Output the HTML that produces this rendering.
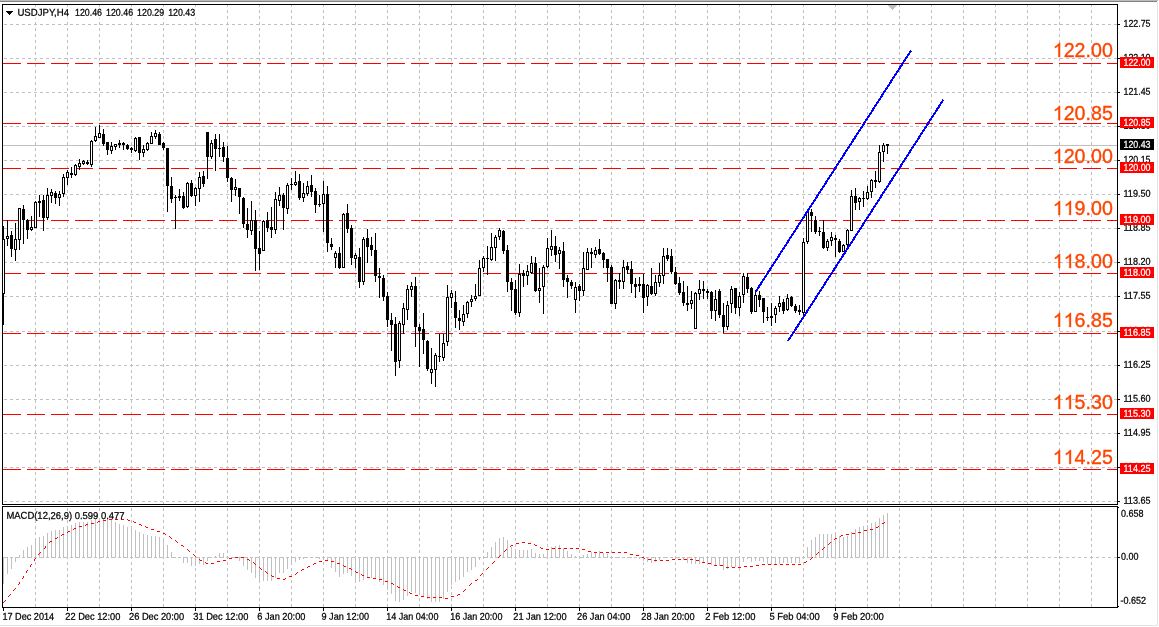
<!DOCTYPE html><html><head><meta charset="utf-8"><style>html,body{margin:0;padding:0;background:#fff;overflow:hidden}svg{display:block}</style></head><body><svg width="1159" height="627" viewBox="0 0 1159 627" shape-rendering="crispEdges">
<rect x="0" y="0" width="1159" height="627" fill="#ffffff"/>
<rect x="0" y="0" width="1158" height="1" fill="#bcbcbc"/>
<rect x="0" y="1" width="1157" height="1" fill="#808181"/>
<rect x="1157" y="2" width="1" height="624" fill="#e3e3e3"/>
<rect x="0" y="625" width="1158" height="1" fill="#e3e3e3"/>
<line x1="35.5" y1="4" x2="35.5" y2="504" stroke="#c0c0c0" stroke-width="1" stroke-dasharray="3 3"/>
<line x1="35.5" y1="508" x2="35.5" y2="607" stroke="#c0c0c0" stroke-width="1" stroke-dasharray="3 3"/>
<line x1="67.5" y1="4" x2="67.5" y2="504" stroke="#c0c0c0" stroke-width="1" stroke-dasharray="3 3"/>
<line x1="67.5" y1="508" x2="67.5" y2="607" stroke="#c0c0c0" stroke-width="1" stroke-dasharray="3 3"/>
<line x1="99.5" y1="4" x2="99.5" y2="504" stroke="#c0c0c0" stroke-width="1" stroke-dasharray="3 3"/>
<line x1="99.5" y1="508" x2="99.5" y2="607" stroke="#c0c0c0" stroke-width="1" stroke-dasharray="3 3"/>
<line x1="131.5" y1="4" x2="131.5" y2="504" stroke="#c0c0c0" stroke-width="1" stroke-dasharray="3 3"/>
<line x1="131.5" y1="508" x2="131.5" y2="607" stroke="#c0c0c0" stroke-width="1" stroke-dasharray="3 3"/>
<line x1="163.5" y1="4" x2="163.5" y2="504" stroke="#c0c0c0" stroke-width="1" stroke-dasharray="3 3"/>
<line x1="163.5" y1="508" x2="163.5" y2="607" stroke="#c0c0c0" stroke-width="1" stroke-dasharray="3 3"/>
<line x1="195.5" y1="4" x2="195.5" y2="504" stroke="#c0c0c0" stroke-width="1" stroke-dasharray="3 3"/>
<line x1="195.5" y1="508" x2="195.5" y2="607" stroke="#c0c0c0" stroke-width="1" stroke-dasharray="3 3"/>
<line x1="227.5" y1="4" x2="227.5" y2="504" stroke="#c0c0c0" stroke-width="1" stroke-dasharray="3 3"/>
<line x1="227.5" y1="508" x2="227.5" y2="607" stroke="#c0c0c0" stroke-width="1" stroke-dasharray="3 3"/>
<line x1="259.5" y1="4" x2="259.5" y2="504" stroke="#c0c0c0" stroke-width="1" stroke-dasharray="3 3"/>
<line x1="259.5" y1="508" x2="259.5" y2="607" stroke="#c0c0c0" stroke-width="1" stroke-dasharray="3 3"/>
<line x1="291.5" y1="4" x2="291.5" y2="504" stroke="#c0c0c0" stroke-width="1" stroke-dasharray="3 3"/>
<line x1="291.5" y1="508" x2="291.5" y2="607" stroke="#c0c0c0" stroke-width="1" stroke-dasharray="3 3"/>
<line x1="323.5" y1="4" x2="323.5" y2="504" stroke="#c0c0c0" stroke-width="1" stroke-dasharray="3 3"/>
<line x1="323.5" y1="508" x2="323.5" y2="607" stroke="#c0c0c0" stroke-width="1" stroke-dasharray="3 3"/>
<line x1="355.5" y1="4" x2="355.5" y2="504" stroke="#c0c0c0" stroke-width="1" stroke-dasharray="3 3"/>
<line x1="355.5" y1="508" x2="355.5" y2="607" stroke="#c0c0c0" stroke-width="1" stroke-dasharray="3 3"/>
<line x1="387.5" y1="4" x2="387.5" y2="504" stroke="#c0c0c0" stroke-width="1" stroke-dasharray="3 3"/>
<line x1="387.5" y1="508" x2="387.5" y2="607" stroke="#c0c0c0" stroke-width="1" stroke-dasharray="3 3"/>
<line x1="419.5" y1="4" x2="419.5" y2="504" stroke="#c0c0c0" stroke-width="1" stroke-dasharray="3 3"/>
<line x1="419.5" y1="508" x2="419.5" y2="607" stroke="#c0c0c0" stroke-width="1" stroke-dasharray="3 3"/>
<line x1="451.5" y1="4" x2="451.5" y2="504" stroke="#c0c0c0" stroke-width="1" stroke-dasharray="3 3"/>
<line x1="451.5" y1="508" x2="451.5" y2="607" stroke="#c0c0c0" stroke-width="1" stroke-dasharray="3 3"/>
<line x1="483.5" y1="4" x2="483.5" y2="504" stroke="#c0c0c0" stroke-width="1" stroke-dasharray="3 3"/>
<line x1="483.5" y1="508" x2="483.5" y2="607" stroke="#c0c0c0" stroke-width="1" stroke-dasharray="3 3"/>
<line x1="515.5" y1="4" x2="515.5" y2="504" stroke="#c0c0c0" stroke-width="1" stroke-dasharray="3 3"/>
<line x1="515.5" y1="508" x2="515.5" y2="607" stroke="#c0c0c0" stroke-width="1" stroke-dasharray="3 3"/>
<line x1="547.5" y1="4" x2="547.5" y2="504" stroke="#c0c0c0" stroke-width="1" stroke-dasharray="3 3"/>
<line x1="547.5" y1="508" x2="547.5" y2="607" stroke="#c0c0c0" stroke-width="1" stroke-dasharray="3 3"/>
<line x1="579.5" y1="4" x2="579.5" y2="504" stroke="#c0c0c0" stroke-width="1" stroke-dasharray="3 3"/>
<line x1="579.5" y1="508" x2="579.5" y2="607" stroke="#c0c0c0" stroke-width="1" stroke-dasharray="3 3"/>
<line x1="611.5" y1="4" x2="611.5" y2="504" stroke="#c0c0c0" stroke-width="1" stroke-dasharray="3 3"/>
<line x1="611.5" y1="508" x2="611.5" y2="607" stroke="#c0c0c0" stroke-width="1" stroke-dasharray="3 3"/>
<line x1="643.5" y1="4" x2="643.5" y2="504" stroke="#c0c0c0" stroke-width="1" stroke-dasharray="3 3"/>
<line x1="643.5" y1="508" x2="643.5" y2="607" stroke="#c0c0c0" stroke-width="1" stroke-dasharray="3 3"/>
<line x1="675.5" y1="4" x2="675.5" y2="504" stroke="#c0c0c0" stroke-width="1" stroke-dasharray="3 3"/>
<line x1="675.5" y1="508" x2="675.5" y2="607" stroke="#c0c0c0" stroke-width="1" stroke-dasharray="3 3"/>
<line x1="707.5" y1="4" x2="707.5" y2="504" stroke="#c0c0c0" stroke-width="1" stroke-dasharray="3 3"/>
<line x1="707.5" y1="508" x2="707.5" y2="607" stroke="#c0c0c0" stroke-width="1" stroke-dasharray="3 3"/>
<line x1="739.5" y1="4" x2="739.5" y2="504" stroke="#c0c0c0" stroke-width="1" stroke-dasharray="3 3"/>
<line x1="739.5" y1="508" x2="739.5" y2="607" stroke="#c0c0c0" stroke-width="1" stroke-dasharray="3 3"/>
<line x1="771.5" y1="4" x2="771.5" y2="504" stroke="#c0c0c0" stroke-width="1" stroke-dasharray="3 3"/>
<line x1="771.5" y1="508" x2="771.5" y2="607" stroke="#c0c0c0" stroke-width="1" stroke-dasharray="3 3"/>
<line x1="803.5" y1="4" x2="803.5" y2="504" stroke="#c0c0c0" stroke-width="1" stroke-dasharray="3 3"/>
<line x1="803.5" y1="508" x2="803.5" y2="607" stroke="#c0c0c0" stroke-width="1" stroke-dasharray="3 3"/>
<line x1="835.5" y1="4" x2="835.5" y2="504" stroke="#c0c0c0" stroke-width="1" stroke-dasharray="3 3"/>
<line x1="835.5" y1="508" x2="835.5" y2="607" stroke="#c0c0c0" stroke-width="1" stroke-dasharray="3 3"/>
<line x1="867.5" y1="4" x2="867.5" y2="504" stroke="#c0c0c0" stroke-width="1" stroke-dasharray="3 3"/>
<line x1="867.5" y1="508" x2="867.5" y2="607" stroke="#c0c0c0" stroke-width="1" stroke-dasharray="3 3"/>
<line x1="899.5" y1="4" x2="899.5" y2="504" stroke="#c0c0c0" stroke-width="1" stroke-dasharray="3 3"/>
<line x1="899.5" y1="508" x2="899.5" y2="607" stroke="#c0c0c0" stroke-width="1" stroke-dasharray="3 3"/>
<line x1="931.5" y1="4" x2="931.5" y2="504" stroke="#c0c0c0" stroke-width="1" stroke-dasharray="3 3"/>
<line x1="931.5" y1="508" x2="931.5" y2="607" stroke="#c0c0c0" stroke-width="1" stroke-dasharray="3 3"/>
<line x1="963.5" y1="4" x2="963.5" y2="504" stroke="#c0c0c0" stroke-width="1" stroke-dasharray="3 3"/>
<line x1="963.5" y1="508" x2="963.5" y2="607" stroke="#c0c0c0" stroke-width="1" stroke-dasharray="3 3"/>
<line x1="995.5" y1="4" x2="995.5" y2="504" stroke="#c0c0c0" stroke-width="1" stroke-dasharray="3 3"/>
<line x1="995.5" y1="508" x2="995.5" y2="607" stroke="#c0c0c0" stroke-width="1" stroke-dasharray="3 3"/>
<line x1="1027.5" y1="4" x2="1027.5" y2="504" stroke="#c0c0c0" stroke-width="1" stroke-dasharray="3 3"/>
<line x1="1027.5" y1="508" x2="1027.5" y2="607" stroke="#c0c0c0" stroke-width="1" stroke-dasharray="3 3"/>
<line x1="1059.5" y1="4" x2="1059.5" y2="504" stroke="#c0c0c0" stroke-width="1" stroke-dasharray="3 3"/>
<line x1="1059.5" y1="508" x2="1059.5" y2="607" stroke="#c0c0c0" stroke-width="1" stroke-dasharray="3 3"/>
<line x1="1091.5" y1="4" x2="1091.5" y2="504" stroke="#c0c0c0" stroke-width="1" stroke-dasharray="3 3"/>
<line x1="1091.5" y1="508" x2="1091.5" y2="607" stroke="#c0c0c0" stroke-width="1" stroke-dasharray="3 3"/>
<line x1="4" y1="24.5" x2="1117" y2="24.5" stroke="#c0c0c0" stroke-width="1" stroke-dasharray="3 3"/>
<line x1="4" y1="58.5" x2="1117" y2="58.5" stroke="#c0c0c0" stroke-width="1" stroke-dasharray="3 3"/>
<line x1="4" y1="92.5" x2="1117" y2="92.5" stroke="#c0c0c0" stroke-width="1" stroke-dasharray="3 3"/>
<line x1="4" y1="126.5" x2="1117" y2="126.5" stroke="#c0c0c0" stroke-width="1" stroke-dasharray="3 3"/>
<line x1="4" y1="160.5" x2="1117" y2="160.5" stroke="#c0c0c0" stroke-width="1" stroke-dasharray="3 3"/>
<line x1="4" y1="194.5" x2="1117" y2="194.5" stroke="#c0c0c0" stroke-width="1" stroke-dasharray="3 3"/>
<line x1="4" y1="228.5" x2="1117" y2="228.5" stroke="#c0c0c0" stroke-width="1" stroke-dasharray="3 3"/>
<line x1="4" y1="262.5" x2="1117" y2="262.5" stroke="#c0c0c0" stroke-width="1" stroke-dasharray="3 3"/>
<line x1="4" y1="296.5" x2="1117" y2="296.5" stroke="#c0c0c0" stroke-width="1" stroke-dasharray="3 3"/>
<line x1="4" y1="331.5" x2="1117" y2="331.5" stroke="#c0c0c0" stroke-width="1" stroke-dasharray="3 3"/>
<line x1="4" y1="365.5" x2="1117" y2="365.5" stroke="#c0c0c0" stroke-width="1" stroke-dasharray="3 3"/>
<line x1="4" y1="399.5" x2="1117" y2="399.5" stroke="#c0c0c0" stroke-width="1" stroke-dasharray="3 3"/>
<line x1="4" y1="433.5" x2="1117" y2="433.5" stroke="#c0c0c0" stroke-width="1" stroke-dasharray="3 3"/>
<line x1="4" y1="467.5" x2="1117" y2="467.5" stroke="#c0c0c0" stroke-width="1" stroke-dasharray="3 3"/>
<line x1="4" y1="501.5" x2="1117" y2="501.5" stroke="#c0c0c0" stroke-width="1" stroke-dasharray="3 3"/>
<line x1="4" y1="557.5" x2="1117" y2="557.5" stroke="#c0c0c0" stroke-width="1" stroke-dasharray="3 3"/>
<rect x="5" y="7" width="192" height="11" fill="#ffffff"/>
<rect x="5" y="511" width="121" height="9" fill="#ffffff"/>
<line x1="3" y1="63.5" x2="1117" y2="63.5" stroke="#ff0000" stroke-width="1" stroke-dasharray="18 6"/>
<line x1="3" y1="123.5" x2="1117" y2="123.5" stroke="#ff0000" stroke-width="1" stroke-dasharray="18 6"/>
<line x1="3" y1="168.5" x2="1117" y2="168.5" stroke="#ff0000" stroke-width="1" stroke-dasharray="18 6"/>
<line x1="3" y1="220.5" x2="1117" y2="220.5" stroke="#ff0000" stroke-width="1" stroke-dasharray="18 6"/>
<line x1="3" y1="273.5" x2="1117" y2="273.5" stroke="#ff0000" stroke-width="1" stroke-dasharray="18 6"/>
<line x1="3" y1="333.5" x2="1117" y2="333.5" stroke="#ff0000" stroke-width="1" stroke-dasharray="18 6"/>
<line x1="3" y1="414.5" x2="1117" y2="414.5" stroke="#ff0000" stroke-width="1" stroke-dasharray="18 6"/>
<line x1="3" y1="469.5" x2="1117" y2="469.5" stroke="#ff0000" stroke-width="1" stroke-dasharray="18 6"/>
<rect x="3" y="145" width="1114" height="1" fill="#c0c0c0"/>
<rect x="3" y="557" width="1" height="27" fill="#c0c0c0"/>
<rect x="7" y="557" width="1" height="17" fill="#c0c0c0"/>
<rect x="11" y="557" width="1" height="12" fill="#c0c0c0"/>
<rect x="15" y="557" width="1" height="5" fill="#c0c0c0"/>
<rect x="19" y="555" width="1" height="3" fill="#c0c0c0"/>
<rect x="23" y="550" width="1" height="8" fill="#c0c0c0"/>
<rect x="27" y="547" width="1" height="11" fill="#c0c0c0"/>
<rect x="31" y="545" width="1" height="13" fill="#c0c0c0"/>
<rect x="35" y="538" width="1" height="20" fill="#c0c0c0"/>
<rect x="39" y="537" width="1" height="21" fill="#c0c0c0"/>
<rect x="43" y="536" width="1" height="22" fill="#c0c0c0"/>
<rect x="47" y="533" width="1" height="25" fill="#c0c0c0"/>
<rect x="51" y="531" width="1" height="27" fill="#c0c0c0"/>
<rect x="55" y="530" width="1" height="28" fill="#c0c0c0"/>
<rect x="59" y="530" width="1" height="28" fill="#c0c0c0"/>
<rect x="63" y="527" width="1" height="31" fill="#c0c0c0"/>
<rect x="67" y="526" width="1" height="32" fill="#c0c0c0"/>
<rect x="71" y="525" width="1" height="33" fill="#c0c0c0"/>
<rect x="75" y="523" width="1" height="35" fill="#c0c0c0"/>
<rect x="79" y="522" width="1" height="36" fill="#c0c0c0"/>
<rect x="83" y="522" width="1" height="36" fill="#c0c0c0"/>
<rect x="87" y="522" width="1" height="36" fill="#c0c0c0"/>
<rect x="91" y="520" width="1" height="38" fill="#c0c0c0"/>
<rect x="95" y="519" width="1" height="39" fill="#c0c0c0"/>
<rect x="99" y="518" width="1" height="40" fill="#c0c0c0"/>
<rect x="103" y="518" width="1" height="40" fill="#c0c0c0"/>
<rect x="107" y="519" width="1" height="39" fill="#c0c0c0"/>
<rect x="111" y="520" width="1" height="38" fill="#c0c0c0"/>
<rect x="115" y="522" width="1" height="36" fill="#c0c0c0"/>
<rect x="119" y="524" width="1" height="34" fill="#c0c0c0"/>
<rect x="123" y="525" width="1" height="33" fill="#c0c0c0"/>
<rect x="127" y="527" width="1" height="31" fill="#c0c0c0"/>
<rect x="131" y="528" width="1" height="30" fill="#c0c0c0"/>
<rect x="135" y="530" width="1" height="28" fill="#c0c0c0"/>
<rect x="139" y="532" width="1" height="26" fill="#c0c0c0"/>
<rect x="143" y="534" width="1" height="24" fill="#c0c0c0"/>
<rect x="147" y="535" width="1" height="23" fill="#c0c0c0"/>
<rect x="151" y="536" width="1" height="22" fill="#c0c0c0"/>
<rect x="155" y="536" width="1" height="22" fill="#c0c0c0"/>
<rect x="159" y="537" width="1" height="21" fill="#c0c0c0"/>
<rect x="163" y="538" width="1" height="20" fill="#c0c0c0"/>
<rect x="167" y="545" width="1" height="13" fill="#c0c0c0"/>
<rect x="171" y="552" width="1" height="6" fill="#c0c0c0"/>
<rect x="175" y="557" width="1" height="1" fill="#c0c0c0"/>
<rect x="179" y="557" width="1" height="1" fill="#c0c0c0"/>
<rect x="183" y="557" width="1" height="6" fill="#c0c0c0"/>
<rect x="187" y="557" width="1" height="6" fill="#c0c0c0"/>
<rect x="191" y="557" width="1" height="9" fill="#c0c0c0"/>
<rect x="195" y="557" width="1" height="9" fill="#c0c0c0"/>
<rect x="199" y="557" width="1" height="7" fill="#c0c0c0"/>
<rect x="203" y="557" width="1" height="8" fill="#c0c0c0"/>
<rect x="207" y="557" width="1" height="4" fill="#c0c0c0"/>
<rect x="211" y="557" width="1" height="1" fill="#c0c0c0"/>
<rect x="215" y="556" width="1" height="2" fill="#c0c0c0"/>
<rect x="219" y="553" width="1" height="5" fill="#c0c0c0"/>
<rect x="223" y="553" width="1" height="5" fill="#c0c0c0"/>
<rect x="227" y="557" width="1" height="1" fill="#c0c0c0"/>
<rect x="231" y="557" width="1" height="1" fill="#c0c0c0"/>
<rect x="235" y="557" width="1" height="1" fill="#c0c0c0"/>
<rect x="239" y="557" width="1" height="4" fill="#c0c0c0"/>
<rect x="243" y="557" width="1" height="9" fill="#c0c0c0"/>
<rect x="247" y="557" width="1" height="13" fill="#c0c0c0"/>
<rect x="251" y="557" width="1" height="16" fill="#c0c0c0"/>
<rect x="255" y="557" width="1" height="21" fill="#c0c0c0"/>
<rect x="259" y="557" width="1" height="25" fill="#c0c0c0"/>
<rect x="263" y="557" width="1" height="24" fill="#c0c0c0"/>
<rect x="267" y="557" width="1" height="24" fill="#c0c0c0"/>
<rect x="271" y="557" width="1" height="24" fill="#c0c0c0"/>
<rect x="275" y="557" width="1" height="21" fill="#c0c0c0"/>
<rect x="279" y="557" width="1" height="16" fill="#c0c0c0"/>
<rect x="283" y="557" width="1" height="16" fill="#c0c0c0"/>
<rect x="287" y="557" width="1" height="12" fill="#c0c0c0"/>
<rect x="291" y="557" width="1" height="8" fill="#c0c0c0"/>
<rect x="295" y="557" width="1" height="5" fill="#c0c0c0"/>
<rect x="299" y="557" width="1" height="3" fill="#c0c0c0"/>
<rect x="303" y="557" width="1" height="2" fill="#c0c0c0"/>
<rect x="307" y="557" width="1" height="1" fill="#c0c0c0"/>
<rect x="311" y="557" width="1" height="1" fill="#c0c0c0"/>
<rect x="315" y="557" width="1" height="1" fill="#c0c0c0"/>
<rect x="319" y="557" width="1" height="2" fill="#c0c0c0"/>
<rect x="323" y="557" width="1" height="3" fill="#c0c0c0"/>
<rect x="327" y="557" width="1" height="4" fill="#c0c0c0"/>
<rect x="331" y="557" width="1" height="11" fill="#c0c0c0"/>
<rect x="335" y="557" width="1" height="15" fill="#c0c0c0"/>
<rect x="339" y="557" width="1" height="20" fill="#c0c0c0"/>
<rect x="343" y="557" width="1" height="17" fill="#c0c0c0"/>
<rect x="347" y="557" width="1" height="16" fill="#c0c0c0"/>
<rect x="351" y="557" width="1" height="19" fill="#c0c0c0"/>
<rect x="355" y="557" width="1" height="26" fill="#c0c0c0"/>
<rect x="359" y="557" width="1" height="25" fill="#c0c0c0"/>
<rect x="363" y="557" width="1" height="23" fill="#c0c0c0"/>
<rect x="367" y="557" width="1" height="21" fill="#c0c0c0"/>
<rect x="371" y="557" width="1" height="21" fill="#c0c0c0"/>
<rect x="375" y="557" width="1" height="22" fill="#c0c0c0"/>
<rect x="379" y="557" width="1" height="25" fill="#c0c0c0"/>
<rect x="383" y="557" width="1" height="28" fill="#c0c0c0"/>
<rect x="387" y="557" width="1" height="33" fill="#c0c0c0"/>
<rect x="391" y="557" width="1" height="37" fill="#c0c0c0"/>
<rect x="395" y="557" width="1" height="44" fill="#c0c0c0"/>
<rect x="399" y="557" width="1" height="45" fill="#c0c0c0"/>
<rect x="403" y="557" width="1" height="43" fill="#c0c0c0"/>
<rect x="407" y="557" width="1" height="39" fill="#c0c0c0"/>
<rect x="411" y="557" width="1" height="35" fill="#c0c0c0"/>
<rect x="415" y="557" width="1" height="36" fill="#c0c0c0"/>
<rect x="419" y="557" width="1" height="38" fill="#c0c0c0"/>
<rect x="423" y="557" width="1" height="39" fill="#c0c0c0"/>
<rect x="427" y="557" width="1" height="42" fill="#c0c0c0"/>
<rect x="431" y="557" width="1" height="45" fill="#c0c0c0"/>
<rect x="435" y="557" width="1" height="45" fill="#c0c0c0"/>
<rect x="439" y="557" width="1" height="45" fill="#c0c0c0"/>
<rect x="443" y="557" width="1" height="42" fill="#c0c0c0"/>
<rect x="447" y="557" width="1" height="35" fill="#c0c0c0"/>
<rect x="451" y="557" width="1" height="28" fill="#c0c0c0"/>
<rect x="455" y="557" width="1" height="25" fill="#c0c0c0"/>
<rect x="459" y="557" width="1" height="23" fill="#c0c0c0"/>
<rect x="463" y="557" width="1" height="20" fill="#c0c0c0"/>
<rect x="467" y="557" width="1" height="15" fill="#c0c0c0"/>
<rect x="471" y="557" width="1" height="13" fill="#c0c0c0"/>
<rect x="475" y="557" width="1" height="10" fill="#c0c0c0"/>
<rect x="479" y="557" width="1" height="3" fill="#c0c0c0"/>
<rect x="483" y="557" width="1" height="1" fill="#c0c0c0"/>
<rect x="487" y="552" width="1" height="6" fill="#c0c0c0"/>
<rect x="491" y="547" width="1" height="11" fill="#c0c0c0"/>
<rect x="495" y="542" width="1" height="16" fill="#c0c0c0"/>
<rect x="499" y="538" width="1" height="20" fill="#c0c0c0"/>
<rect x="503" y="537" width="1" height="21" fill="#c0c0c0"/>
<rect x="507" y="540" width="1" height="18" fill="#c0c0c0"/>
<rect x="511" y="547" width="1" height="11" fill="#c0c0c0"/>
<rect x="515" y="549" width="1" height="9" fill="#c0c0c0"/>
<rect x="519" y="550" width="1" height="8" fill="#c0c0c0"/>
<rect x="523" y="550" width="1" height="8" fill="#c0c0c0"/>
<rect x="527" y="550" width="1" height="8" fill="#c0c0c0"/>
<rect x="531" y="549" width="1" height="9" fill="#c0c0c0"/>
<rect x="535" y="553" width="1" height="5" fill="#c0c0c0"/>
<rect x="539" y="554" width="1" height="4" fill="#c0c0c0"/>
<rect x="543" y="554" width="1" height="4" fill="#c0c0c0"/>
<rect x="547" y="550" width="1" height="8" fill="#c0c0c0"/>
<rect x="551" y="547" width="1" height="11" fill="#c0c0c0"/>
<rect x="555" y="546" width="1" height="12" fill="#c0c0c0"/>
<rect x="559" y="545" width="1" height="13" fill="#c0c0c0"/>
<rect x="563" y="548" width="1" height="10" fill="#c0c0c0"/>
<rect x="567" y="551" width="1" height="7" fill="#c0c0c0"/>
<rect x="571" y="554" width="1" height="4" fill="#c0c0c0"/>
<rect x="575" y="556" width="1" height="2" fill="#c0c0c0"/>
<rect x="579" y="557" width="1" height="1" fill="#c0c0c0"/>
<rect x="583" y="555" width="1" height="3" fill="#c0c0c0"/>
<rect x="587" y="554" width="1" height="4" fill="#c0c0c0"/>
<rect x="591" y="552" width="1" height="6" fill="#c0c0c0"/>
<rect x="595" y="552" width="1" height="6" fill="#c0c0c0"/>
<rect x="599" y="551" width="1" height="7" fill="#c0c0c0"/>
<rect x="603" y="553" width="1" height="5" fill="#c0c0c0"/>
<rect x="607" y="554" width="1" height="4" fill="#c0c0c0"/>
<rect x="611" y="556" width="1" height="2" fill="#c0c0c0"/>
<rect x="615" y="557" width="1" height="1" fill="#c0c0c0"/>
<rect x="619" y="557" width="1" height="1" fill="#c0c0c0"/>
<rect x="623" y="557" width="1" height="1" fill="#c0c0c0"/>
<rect x="627" y="557" width="1" height="1" fill="#c0c0c0"/>
<rect x="631" y="557" width="1" height="1" fill="#c0c0c0"/>
<rect x="635" y="557" width="1" height="1" fill="#c0c0c0"/>
<rect x="639" y="557" width="1" height="2" fill="#c0c0c0"/>
<rect x="643" y="557" width="1" height="4" fill="#c0c0c0"/>
<rect x="647" y="557" width="1" height="5" fill="#c0c0c0"/>
<rect x="651" y="557" width="1" height="6" fill="#c0c0c0"/>
<rect x="655" y="557" width="1" height="5" fill="#c0c0c0"/>
<rect x="659" y="557" width="1" height="3" fill="#c0c0c0"/>
<rect x="663" y="557" width="1" height="1" fill="#c0c0c0"/>
<rect x="667" y="557" width="1" height="1" fill="#c0c0c0"/>
<rect x="671" y="557" width="1" height="1" fill="#c0c0c0"/>
<rect x="675" y="557" width="1" height="2" fill="#c0c0c0"/>
<rect x="679" y="557" width="1" height="1" fill="#c0c0c0"/>
<rect x="683" y="557" width="1" height="3" fill="#c0c0c0"/>
<rect x="687" y="557" width="1" height="6" fill="#c0c0c0"/>
<rect x="691" y="557" width="1" height="7" fill="#c0c0c0"/>
<rect x="695" y="557" width="1" height="7" fill="#c0c0c0"/>
<rect x="699" y="557" width="1" height="7" fill="#c0c0c0"/>
<rect x="703" y="557" width="1" height="5" fill="#c0c0c0"/>
<rect x="707" y="557" width="1" height="6" fill="#c0c0c0"/>
<rect x="711" y="557" width="1" height="8" fill="#c0c0c0"/>
<rect x="715" y="557" width="1" height="9" fill="#c0c0c0"/>
<rect x="719" y="557" width="1" height="9" fill="#c0c0c0"/>
<rect x="723" y="557" width="1" height="13" fill="#c0c0c0"/>
<rect x="727" y="557" width="1" height="12" fill="#c0c0c0"/>
<rect x="731" y="557" width="1" height="10" fill="#c0c0c0"/>
<rect x="735" y="557" width="1" height="10" fill="#c0c0c0"/>
<rect x="739" y="557" width="1" height="10" fill="#c0c0c0"/>
<rect x="743" y="557" width="1" height="5" fill="#c0c0c0"/>
<rect x="747" y="557" width="1" height="2" fill="#c0c0c0"/>
<rect x="751" y="557" width="1" height="5" fill="#c0c0c0"/>
<rect x="755" y="557" width="1" height="4" fill="#c0c0c0"/>
<rect x="759" y="557" width="1" height="4" fill="#c0c0c0"/>
<rect x="763" y="557" width="1" height="5" fill="#c0c0c0"/>
<rect x="767" y="557" width="1" height="7" fill="#c0c0c0"/>
<rect x="771" y="557" width="1" height="7" fill="#c0c0c0"/>
<rect x="775" y="557" width="1" height="8" fill="#c0c0c0"/>
<rect x="779" y="557" width="1" height="7" fill="#c0c0c0"/>
<rect x="783" y="557" width="1" height="6" fill="#c0c0c0"/>
<rect x="787" y="557" width="1" height="6" fill="#c0c0c0"/>
<rect x="791" y="557" width="1" height="6" fill="#c0c0c0"/>
<rect x="795" y="557" width="1" height="6" fill="#c0c0c0"/>
<rect x="799" y="557" width="1" height="6" fill="#c0c0c0"/>
<rect x="803" y="557" width="1" height="1" fill="#c0c0c0"/>
<rect x="807" y="547" width="1" height="11" fill="#c0c0c0"/>
<rect x="811" y="540" width="1" height="18" fill="#c0c0c0"/>
<rect x="815" y="537" width="1" height="21" fill="#c0c0c0"/>
<rect x="819" y="534" width="1" height="24" fill="#c0c0c0"/>
<rect x="823" y="534" width="1" height="24" fill="#c0c0c0"/>
<rect x="827" y="534" width="1" height="24" fill="#c0c0c0"/>
<rect x="831" y="534" width="1" height="24" fill="#c0c0c0"/>
<rect x="835" y="534" width="1" height="24" fill="#c0c0c0"/>
<rect x="839" y="536" width="1" height="22" fill="#c0c0c0"/>
<rect x="843" y="537" width="1" height="21" fill="#c0c0c0"/>
<rect x="847" y="536" width="1" height="22" fill="#c0c0c0"/>
<rect x="851" y="532" width="1" height="26" fill="#c0c0c0"/>
<rect x="855" y="529" width="1" height="29" fill="#c0c0c0"/>
<rect x="859" y="527" width="1" height="31" fill="#c0c0c0"/>
<rect x="863" y="526" width="1" height="32" fill="#c0c0c0"/>
<rect x="867" y="525" width="1" height="33" fill="#c0c0c0"/>
<rect x="871" y="523" width="1" height="35" fill="#c0c0c0"/>
<rect x="875" y="522" width="1" height="36" fill="#c0c0c0"/>
<rect x="879" y="518" width="1" height="40" fill="#c0c0c0"/>
<rect x="883" y="515" width="1" height="43" fill="#c0c0c0"/>
<rect x="887" y="513" width="1" height="45" fill="#c0c0c0"/>
<rect x="3" y="226" width="1" height="99" fill="#000"/>
<rect x="2" y="239" width="3" height="55" fill="#000"/>
<rect x="3" y="240" width="1" height="53" fill="#fff"/>
<rect x="7" y="220" width="1" height="26" fill="#000"/>
<rect x="6" y="236" width="3" height="3" fill="#000"/>
<rect x="7" y="237" width="1" height="1" fill="#fff"/>
<rect x="11" y="231" width="1" height="26" fill="#000"/>
<rect x="10" y="235" width="3" height="14" fill="#000"/>
<rect x="15" y="223" width="1" height="38" fill="#000"/>
<rect x="14" y="239" width="3" height="11" fill="#000"/>
<rect x="15" y="240" width="1" height="9" fill="#fff"/>
<rect x="19" y="208" width="1" height="42" fill="#000"/>
<rect x="18" y="208" width="3" height="32" fill="#000"/>
<rect x="19" y="209" width="1" height="30" fill="#fff"/>
<rect x="23" y="205" width="1" height="39" fill="#000"/>
<rect x="22" y="209" width="3" height="11" fill="#000"/>
<rect x="27" y="219" width="1" height="20" fill="#000"/>
<rect x="26" y="220" width="3" height="10" fill="#000"/>
<rect x="31" y="216" width="1" height="15" fill="#000"/>
<rect x="30" y="227" width="3" height="3" fill="#000"/>
<rect x="31" y="228" width="1" height="1" fill="#fff"/>
<rect x="35" y="201" width="1" height="27" fill="#000"/>
<rect x="34" y="202" width="3" height="26" fill="#000"/>
<rect x="35" y="203" width="1" height="24" fill="#fff"/>
<rect x="39" y="195" width="1" height="22" fill="#000"/>
<rect x="38" y="201" width="3" height="2" fill="#000"/>
<rect x="43" y="195" width="1" height="36" fill="#000"/>
<rect x="42" y="200" width="3" height="18" fill="#000"/>
<rect x="47" y="188" width="1" height="32" fill="#000"/>
<rect x="46" y="195" width="3" height="23" fill="#000"/>
<rect x="47" y="196" width="1" height="21" fill="#fff"/>
<rect x="51" y="189" width="1" height="14" fill="#000"/>
<rect x="50" y="192" width="3" height="4" fill="#000"/>
<rect x="51" y="193" width="1" height="2" fill="#fff"/>
<rect x="55" y="191" width="1" height="13" fill="#000"/>
<rect x="54" y="193" width="3" height="5" fill="#000"/>
<rect x="59" y="191" width="1" height="15" fill="#000"/>
<rect x="58" y="194" width="3" height="4" fill="#000"/>
<rect x="59" y="195" width="1" height="2" fill="#fff"/>
<rect x="63" y="174" width="1" height="23" fill="#000"/>
<rect x="62" y="177" width="3" height="17" fill="#000"/>
<rect x="63" y="178" width="1" height="15" fill="#fff"/>
<rect x="67" y="170" width="1" height="15" fill="#000"/>
<rect x="66" y="172" width="3" height="6" fill="#000"/>
<rect x="67" y="173" width="1" height="4" fill="#fff"/>
<rect x="71" y="167" width="1" height="11" fill="#000"/>
<rect x="70" y="173" width="3" height="2" fill="#000"/>
<rect x="75" y="164" width="1" height="12" fill="#000"/>
<rect x="74" y="165" width="3" height="10" fill="#000"/>
<rect x="75" y="166" width="1" height="8" fill="#fff"/>
<rect x="79" y="159" width="1" height="11" fill="#000"/>
<rect x="78" y="163" width="3" height="4" fill="#000"/>
<rect x="79" y="164" width="1" height="2" fill="#fff"/>
<rect x="83" y="160" width="1" height="5" fill="#000"/>
<rect x="82" y="161" width="3" height="3" fill="#000"/>
<rect x="83" y="162" width="1" height="1" fill="#fff"/>
<rect x="87" y="160" width="1" height="5" fill="#000"/>
<rect x="86" y="162" width="3" height="2" fill="#000"/>
<rect x="91" y="140" width="1" height="27" fill="#000"/>
<rect x="90" y="141" width="3" height="24" fill="#000"/>
<rect x="91" y="142" width="1" height="22" fill="#fff"/>
<rect x="95" y="127" width="1" height="15" fill="#000"/>
<rect x="94" y="136" width="3" height="5" fill="#000"/>
<rect x="95" y="137" width="1" height="3" fill="#fff"/>
<rect x="99" y="125" width="1" height="13" fill="#000"/>
<rect x="98" y="133" width="3" height="5" fill="#000"/>
<rect x="99" y="134" width="1" height="3" fill="#fff"/>
<rect x="103" y="129" width="1" height="17" fill="#000"/>
<rect x="102" y="134" width="3" height="10" fill="#000"/>
<rect x="107" y="142" width="1" height="13" fill="#000"/>
<rect x="106" y="142" width="3" height="8" fill="#000"/>
<rect x="111" y="142" width="1" height="12" fill="#000"/>
<rect x="110" y="146" width="3" height="5" fill="#000"/>
<rect x="111" y="147" width="1" height="3" fill="#fff"/>
<rect x="115" y="144" width="1" height="6" fill="#000"/>
<rect x="114" y="144" width="3" height="3" fill="#000"/>
<rect x="115" y="145" width="1" height="1" fill="#fff"/>
<rect x="119" y="140" width="1" height="8" fill="#000"/>
<rect x="118" y="143" width="3" height="2" fill="#000"/>
<rect x="123" y="142" width="1" height="8" fill="#000"/>
<rect x="122" y="143" width="3" height="2" fill="#000"/>
<rect x="127" y="144" width="1" height="6" fill="#000"/>
<rect x="126" y="145" width="3" height="4" fill="#000"/>
<rect x="131" y="147" width="1" height="6" fill="#000"/>
<rect x="130" y="148" width="3" height="2" fill="#000"/>
<rect x="135" y="137" width="1" height="15" fill="#000"/>
<rect x="134" y="138" width="3" height="13" fill="#000"/>
<rect x="135" y="139" width="1" height="11" fill="#fff"/>
<rect x="139" y="137" width="1" height="23" fill="#000"/>
<rect x="138" y="137" width="3" height="16" fill="#000"/>
<rect x="143" y="145" width="1" height="12" fill="#000"/>
<rect x="142" y="149" width="3" height="4" fill="#000"/>
<rect x="143" y="150" width="1" height="2" fill="#fff"/>
<rect x="147" y="142" width="1" height="9" fill="#000"/>
<rect x="146" y="143" width="3" height="7" fill="#000"/>
<rect x="147" y="144" width="1" height="5" fill="#fff"/>
<rect x="151" y="132" width="1" height="12" fill="#000"/>
<rect x="150" y="136" width="3" height="8" fill="#000"/>
<rect x="151" y="137" width="1" height="6" fill="#fff"/>
<rect x="155" y="130" width="1" height="9" fill="#000"/>
<rect x="154" y="133" width="3" height="4" fill="#000"/>
<rect x="155" y="134" width="1" height="2" fill="#fff"/>
<rect x="159" y="132" width="1" height="13" fill="#000"/>
<rect x="158" y="134" width="3" height="11" fill="#000"/>
<rect x="163" y="142" width="1" height="8" fill="#000"/>
<rect x="162" y="143" width="3" height="5" fill="#000"/>
<rect x="167" y="148" width="1" height="64" fill="#000"/>
<rect x="166" y="148" width="3" height="38" fill="#000"/>
<rect x="171" y="177" width="1" height="26" fill="#000"/>
<rect x="170" y="186" width="3" height="13" fill="#000"/>
<rect x="175" y="195" width="1" height="34" fill="#000"/>
<rect x="174" y="197" width="3" height="1" fill="#000"/>
<rect x="179" y="189" width="1" height="12" fill="#000"/>
<rect x="178" y="196" width="3" height="2" fill="#000"/>
<rect x="183" y="192" width="1" height="17" fill="#000"/>
<rect x="182" y="196" width="3" height="12" fill="#000"/>
<rect x="187" y="182" width="1" height="26" fill="#000"/>
<rect x="186" y="183" width="3" height="24" fill="#000"/>
<rect x="187" y="184" width="1" height="22" fill="#fff"/>
<rect x="191" y="180" width="1" height="17" fill="#000"/>
<rect x="190" y="183" width="3" height="13" fill="#000"/>
<rect x="195" y="187" width="1" height="19" fill="#000"/>
<rect x="194" y="188" width="3" height="8" fill="#000"/>
<rect x="195" y="189" width="1" height="6" fill="#fff"/>
<rect x="199" y="172" width="1" height="30" fill="#000"/>
<rect x="198" y="177" width="3" height="12" fill="#000"/>
<rect x="199" y="178" width="1" height="10" fill="#fff"/>
<rect x="203" y="171" width="1" height="16" fill="#000"/>
<rect x="202" y="176" width="3" height="8" fill="#000"/>
<rect x="207" y="132" width="1" height="47" fill="#000"/>
<rect x="206" y="132" width="3" height="25" fill="#000"/>
<rect x="211" y="140" width="1" height="19" fill="#000"/>
<rect x="210" y="143" width="3" height="14" fill="#000"/>
<rect x="211" y="144" width="1" height="12" fill="#fff"/>
<rect x="215" y="134" width="1" height="37" fill="#000"/>
<rect x="214" y="139" width="3" height="10" fill="#000"/>
<rect x="219" y="134" width="1" height="23" fill="#000"/>
<rect x="218" y="148" width="3" height="1" fill="#000"/>
<rect x="223" y="142" width="1" height="20" fill="#000"/>
<rect x="222" y="147" width="3" height="10" fill="#000"/>
<rect x="227" y="146" width="1" height="36" fill="#000"/>
<rect x="226" y="158" width="3" height="20" fill="#000"/>
<rect x="231" y="177" width="1" height="25" fill="#000"/>
<rect x="230" y="178" width="3" height="12" fill="#000"/>
<rect x="235" y="179" width="1" height="17" fill="#000"/>
<rect x="234" y="187" width="3" height="3" fill="#000"/>
<rect x="235" y="188" width="1" height="1" fill="#fff"/>
<rect x="239" y="188" width="1" height="26" fill="#000"/>
<rect x="238" y="188" width="3" height="9" fill="#000"/>
<rect x="243" y="197" width="1" height="31" fill="#000"/>
<rect x="242" y="198" width="3" height="26" fill="#000"/>
<rect x="247" y="208" width="1" height="30" fill="#000"/>
<rect x="246" y="224" width="3" height="6" fill="#000"/>
<rect x="251" y="201" width="1" height="34" fill="#000"/>
<rect x="250" y="220" width="3" height="11" fill="#000"/>
<rect x="251" y="221" width="1" height="9" fill="#fff"/>
<rect x="255" y="210" width="1" height="61" fill="#000"/>
<rect x="254" y="220" width="3" height="29" fill="#000"/>
<rect x="259" y="231" width="1" height="39" fill="#000"/>
<rect x="258" y="248" width="3" height="6" fill="#000"/>
<rect x="263" y="220" width="1" height="31" fill="#000"/>
<rect x="262" y="221" width="3" height="30" fill="#000"/>
<rect x="263" y="222" width="1" height="28" fill="#fff"/>
<rect x="267" y="212" width="1" height="20" fill="#000"/>
<rect x="266" y="220" width="3" height="8" fill="#000"/>
<rect x="271" y="207" width="1" height="31" fill="#000"/>
<rect x="270" y="227" width="3" height="3" fill="#000"/>
<rect x="275" y="192" width="1" height="42" fill="#000"/>
<rect x="274" y="199" width="3" height="31" fill="#000"/>
<rect x="275" y="200" width="1" height="29" fill="#fff"/>
<rect x="279" y="187" width="1" height="19" fill="#000"/>
<rect x="278" y="195" width="3" height="6" fill="#000"/>
<rect x="279" y="196" width="1" height="4" fill="#fff"/>
<rect x="283" y="193" width="1" height="37" fill="#000"/>
<rect x="282" y="195" width="3" height="13" fill="#000"/>
<rect x="287" y="183" width="1" height="31" fill="#000"/>
<rect x="286" y="185" width="3" height="24" fill="#000"/>
<rect x="287" y="186" width="1" height="22" fill="#fff"/>
<rect x="291" y="178" width="1" height="12" fill="#000"/>
<rect x="290" y="184" width="3" height="1" fill="#000"/>
<rect x="295" y="171" width="1" height="15" fill="#000"/>
<rect x="294" y="182" width="3" height="3" fill="#000"/>
<rect x="295" y="183" width="1" height="1" fill="#fff"/>
<rect x="299" y="174" width="1" height="26" fill="#000"/>
<rect x="298" y="181" width="3" height="17" fill="#000"/>
<rect x="303" y="183" width="1" height="19" fill="#000"/>
<rect x="302" y="193" width="3" height="5" fill="#000"/>
<rect x="303" y="194" width="1" height="3" fill="#fff"/>
<rect x="307" y="181" width="1" height="15" fill="#000"/>
<rect x="306" y="186" width="3" height="8" fill="#000"/>
<rect x="307" y="187" width="1" height="6" fill="#fff"/>
<rect x="311" y="175" width="1" height="22" fill="#000"/>
<rect x="310" y="185" width="3" height="7" fill="#000"/>
<rect x="315" y="188" width="1" height="25" fill="#000"/>
<rect x="314" y="191" width="3" height="14" fill="#000"/>
<rect x="319" y="195" width="1" height="12" fill="#000"/>
<rect x="318" y="204" width="3" height="1" fill="#000"/>
<rect x="323" y="181" width="1" height="51" fill="#000"/>
<rect x="322" y="194" width="3" height="10" fill="#000"/>
<rect x="323" y="195" width="1" height="8" fill="#fff"/>
<rect x="327" y="186" width="1" height="66" fill="#000"/>
<rect x="326" y="194" width="3" height="49" fill="#000"/>
<rect x="331" y="238" width="1" height="12" fill="#000"/>
<rect x="330" y="244" width="3" height="3" fill="#000"/>
<rect x="335" y="251" width="1" height="17" fill="#000"/>
<rect x="334" y="253" width="3" height="5" fill="#000"/>
<rect x="335" y="254" width="1" height="3" fill="#fff"/>
<rect x="339" y="247" width="1" height="22" fill="#000"/>
<rect x="338" y="253" width="3" height="15" fill="#000"/>
<rect x="343" y="213" width="1" height="55" fill="#000"/>
<rect x="342" y="214" width="3" height="54" fill="#000"/>
<rect x="343" y="215" width="1" height="52" fill="#fff"/>
<rect x="347" y="204" width="1" height="29" fill="#000"/>
<rect x="346" y="213" width="3" height="16" fill="#000"/>
<rect x="351" y="225" width="1" height="40" fill="#000"/>
<rect x="350" y="228" width="3" height="30" fill="#000"/>
<rect x="355" y="253" width="1" height="15" fill="#000"/>
<rect x="354" y="255" width="3" height="4" fill="#000"/>
<rect x="355" y="256" width="1" height="2" fill="#fff"/>
<rect x="359" y="248" width="1" height="40" fill="#000"/>
<rect x="358" y="257" width="3" height="25" fill="#000"/>
<rect x="363" y="237" width="1" height="48" fill="#000"/>
<rect x="362" y="239" width="3" height="43" fill="#000"/>
<rect x="363" y="240" width="1" height="41" fill="#fff"/>
<rect x="367" y="229" width="1" height="34" fill="#000"/>
<rect x="366" y="238" width="3" height="9" fill="#000"/>
<rect x="371" y="237" width="1" height="19" fill="#000"/>
<rect x="370" y="245" width="3" height="5" fill="#000"/>
<rect x="375" y="233" width="1" height="49" fill="#000"/>
<rect x="374" y="250" width="3" height="26" fill="#000"/>
<rect x="379" y="268" width="1" height="30" fill="#000"/>
<rect x="378" y="276" width="3" height="2" fill="#000"/>
<rect x="383" y="275" width="1" height="26" fill="#000"/>
<rect x="382" y="278" width="3" height="19" fill="#000"/>
<rect x="387" y="292" width="1" height="35" fill="#000"/>
<rect x="386" y="296" width="3" height="24" fill="#000"/>
<rect x="391" y="313" width="1" height="38" fill="#000"/>
<rect x="390" y="320" width="3" height="5" fill="#000"/>
<rect x="395" y="317" width="1" height="59" fill="#000"/>
<rect x="394" y="324" width="3" height="38" fill="#000"/>
<rect x="399" y="321" width="1" height="47" fill="#000"/>
<rect x="398" y="323" width="3" height="38" fill="#000"/>
<rect x="399" y="324" width="1" height="36" fill="#fff"/>
<rect x="403" y="303" width="1" height="31" fill="#000"/>
<rect x="402" y="308" width="3" height="17" fill="#000"/>
<rect x="403" y="309" width="1" height="15" fill="#fff"/>
<rect x="407" y="285" width="1" height="35" fill="#000"/>
<rect x="406" y="289" width="3" height="21" fill="#000"/>
<rect x="407" y="290" width="1" height="19" fill="#fff"/>
<rect x="411" y="282" width="1" height="15" fill="#000"/>
<rect x="410" y="286" width="3" height="4" fill="#000"/>
<rect x="411" y="287" width="1" height="2" fill="#fff"/>
<rect x="415" y="277" width="1" height="70" fill="#000"/>
<rect x="414" y="286" width="3" height="41" fill="#000"/>
<rect x="419" y="324" width="1" height="43" fill="#000"/>
<rect x="418" y="327" width="3" height="4" fill="#000"/>
<rect x="423" y="313" width="1" height="41" fill="#000"/>
<rect x="422" y="329" width="3" height="11" fill="#000"/>
<rect x="427" y="340" width="1" height="31" fill="#000"/>
<rect x="426" y="341" width="3" height="28" fill="#000"/>
<rect x="431" y="348" width="1" height="36" fill="#000"/>
<rect x="430" y="369" width="3" height="4" fill="#000"/>
<rect x="431" y="370" width="1" height="2" fill="#fff"/>
<rect x="435" y="353" width="1" height="34" fill="#000"/>
<rect x="434" y="355" width="3" height="15" fill="#000"/>
<rect x="435" y="356" width="1" height="13" fill="#fff"/>
<rect x="439" y="334" width="1" height="28" fill="#000"/>
<rect x="438" y="356" width="3" height="1" fill="#000"/>
<rect x="443" y="334" width="1" height="27" fill="#000"/>
<rect x="442" y="343" width="3" height="15" fill="#000"/>
<rect x="443" y="344" width="1" height="13" fill="#fff"/>
<rect x="447" y="285" width="1" height="61" fill="#000"/>
<rect x="446" y="297" width="3" height="45" fill="#000"/>
<rect x="447" y="298" width="1" height="43" fill="#fff"/>
<rect x="451" y="290" width="1" height="18" fill="#000"/>
<rect x="450" y="293" width="3" height="5" fill="#000"/>
<rect x="451" y="294" width="1" height="3" fill="#fff"/>
<rect x="455" y="291" width="1" height="37" fill="#000"/>
<rect x="454" y="302" width="3" height="16" fill="#000"/>
<rect x="459" y="310" width="1" height="20" fill="#000"/>
<rect x="458" y="318" width="3" height="3" fill="#000"/>
<rect x="463" y="305" width="1" height="21" fill="#000"/>
<rect x="462" y="314" width="3" height="8" fill="#000"/>
<rect x="463" y="315" width="1" height="6" fill="#fff"/>
<rect x="467" y="301" width="1" height="17" fill="#000"/>
<rect x="466" y="302" width="3" height="12" fill="#000"/>
<rect x="467" y="303" width="1" height="10" fill="#fff"/>
<rect x="471" y="295" width="1" height="12" fill="#000"/>
<rect x="470" y="299" width="3" height="3" fill="#000"/>
<rect x="471" y="300" width="1" height="1" fill="#fff"/>
<rect x="475" y="284" width="1" height="17" fill="#000"/>
<rect x="474" y="296" width="3" height="3" fill="#000"/>
<rect x="475" y="297" width="1" height="1" fill="#fff"/>
<rect x="479" y="260" width="1" height="36" fill="#000"/>
<rect x="478" y="268" width="3" height="28" fill="#000"/>
<rect x="479" y="269" width="1" height="26" fill="#fff"/>
<rect x="483" y="256" width="1" height="16" fill="#000"/>
<rect x="482" y="258" width="3" height="10" fill="#000"/>
<rect x="483" y="259" width="1" height="8" fill="#fff"/>
<rect x="487" y="246" width="1" height="29" fill="#000"/>
<rect x="486" y="258" width="3" height="1" fill="#000"/>
<rect x="491" y="233" width="1" height="28" fill="#000"/>
<rect x="490" y="247" width="3" height="13" fill="#000"/>
<rect x="491" y="248" width="1" height="11" fill="#fff"/>
<rect x="495" y="235" width="1" height="26" fill="#000"/>
<rect x="494" y="237" width="3" height="11" fill="#000"/>
<rect x="495" y="238" width="1" height="9" fill="#fff"/>
<rect x="499" y="228" width="1" height="12" fill="#000"/>
<rect x="498" y="230" width="3" height="7" fill="#000"/>
<rect x="499" y="231" width="1" height="5" fill="#fff"/>
<rect x="503" y="230" width="1" height="24" fill="#000"/>
<rect x="502" y="231" width="3" height="20" fill="#000"/>
<rect x="507" y="245" width="1" height="47" fill="#000"/>
<rect x="506" y="250" width="3" height="32" fill="#000"/>
<rect x="511" y="278" width="1" height="33" fill="#000"/>
<rect x="510" y="282" width="3" height="8" fill="#000"/>
<rect x="515" y="280" width="1" height="35" fill="#000"/>
<rect x="514" y="289" width="3" height="24" fill="#000"/>
<rect x="519" y="264" width="1" height="53" fill="#000"/>
<rect x="518" y="274" width="3" height="39" fill="#000"/>
<rect x="519" y="275" width="1" height="37" fill="#fff"/>
<rect x="523" y="270" width="1" height="17" fill="#000"/>
<rect x="522" y="273" width="3" height="3" fill="#000"/>
<rect x="527" y="265" width="1" height="20" fill="#000"/>
<rect x="526" y="271" width="3" height="5" fill="#000"/>
<rect x="527" y="272" width="1" height="3" fill="#fff"/>
<rect x="531" y="256" width="1" height="18" fill="#000"/>
<rect x="530" y="263" width="3" height="10" fill="#000"/>
<rect x="531" y="264" width="1" height="8" fill="#fff"/>
<rect x="535" y="257" width="1" height="35" fill="#000"/>
<rect x="534" y="263" width="3" height="28" fill="#000"/>
<rect x="539" y="268" width="1" height="35" fill="#000"/>
<rect x="538" y="288" width="3" height="3" fill="#000"/>
<rect x="539" y="289" width="1" height="1" fill="#fff"/>
<rect x="543" y="265" width="1" height="49" fill="#000"/>
<rect x="542" y="267" width="3" height="20" fill="#000"/>
<rect x="543" y="268" width="1" height="18" fill="#fff"/>
<rect x="547" y="238" width="1" height="30" fill="#000"/>
<rect x="546" y="248" width="3" height="19" fill="#000"/>
<rect x="547" y="249" width="1" height="17" fill="#fff"/>
<rect x="551" y="230" width="1" height="26" fill="#000"/>
<rect x="550" y="246" width="3" height="4" fill="#000"/>
<rect x="551" y="247" width="1" height="2" fill="#fff"/>
<rect x="555" y="236" width="1" height="26" fill="#000"/>
<rect x="554" y="246" width="3" height="9" fill="#000"/>
<rect x="559" y="247" width="1" height="22" fill="#000"/>
<rect x="558" y="250" width="3" height="4" fill="#000"/>
<rect x="559" y="251" width="1" height="2" fill="#fff"/>
<rect x="563" y="242" width="1" height="45" fill="#000"/>
<rect x="562" y="251" width="3" height="29" fill="#000"/>
<rect x="567" y="275" width="1" height="23" fill="#000"/>
<rect x="566" y="278" width="3" height="4" fill="#000"/>
<rect x="571" y="280" width="1" height="9" fill="#000"/>
<rect x="570" y="282" width="3" height="4" fill="#000"/>
<rect x="575" y="282" width="1" height="31" fill="#000"/>
<rect x="574" y="287" width="3" height="13" fill="#000"/>
<rect x="575" y="288" width="1" height="11" fill="#fff"/>
<rect x="579" y="284" width="1" height="17" fill="#000"/>
<rect x="578" y="286" width="3" height="5" fill="#000"/>
<rect x="583" y="252" width="1" height="44" fill="#000"/>
<rect x="582" y="268" width="3" height="23" fill="#000"/>
<rect x="583" y="269" width="1" height="21" fill="#fff"/>
<rect x="587" y="248" width="1" height="22" fill="#000"/>
<rect x="586" y="252" width="3" height="18" fill="#000"/>
<rect x="587" y="253" width="1" height="16" fill="#fff"/>
<rect x="591" y="248" width="1" height="20" fill="#000"/>
<rect x="590" y="252" width="3" height="2" fill="#000"/>
<rect x="595" y="247" width="1" height="11" fill="#000"/>
<rect x="594" y="250" width="3" height="5" fill="#000"/>
<rect x="595" y="251" width="1" height="3" fill="#fff"/>
<rect x="599" y="239" width="1" height="16" fill="#000"/>
<rect x="598" y="249" width="3" height="5" fill="#000"/>
<rect x="603" y="252" width="1" height="16" fill="#000"/>
<rect x="602" y="253" width="3" height="7" fill="#000"/>
<rect x="607" y="259" width="1" height="23" fill="#000"/>
<rect x="606" y="259" width="3" height="9" fill="#000"/>
<rect x="611" y="265" width="1" height="39" fill="#000"/>
<rect x="610" y="267" width="3" height="37" fill="#000"/>
<rect x="615" y="279" width="1" height="30" fill="#000"/>
<rect x="614" y="280" width="3" height="24" fill="#000"/>
<rect x="615" y="281" width="1" height="22" fill="#fff"/>
<rect x="619" y="273" width="1" height="16" fill="#000"/>
<rect x="618" y="280" width="3" height="2" fill="#000"/>
<rect x="623" y="260" width="1" height="29" fill="#000"/>
<rect x="622" y="267" width="3" height="15" fill="#000"/>
<rect x="623" y="268" width="1" height="13" fill="#fff"/>
<rect x="627" y="262" width="1" height="12" fill="#000"/>
<rect x="626" y="266" width="3" height="4" fill="#000"/>
<rect x="631" y="261" width="1" height="32" fill="#000"/>
<rect x="630" y="269" width="3" height="15" fill="#000"/>
<rect x="635" y="278" width="1" height="20" fill="#000"/>
<rect x="634" y="284" width="3" height="3" fill="#000"/>
<rect x="639" y="277" width="1" height="15" fill="#000"/>
<rect x="638" y="284" width="3" height="2" fill="#000"/>
<rect x="643" y="274" width="1" height="39" fill="#000"/>
<rect x="642" y="284" width="3" height="14" fill="#000"/>
<rect x="647" y="284" width="1" height="22" fill="#000"/>
<rect x="646" y="285" width="3" height="12" fill="#000"/>
<rect x="647" y="286" width="1" height="10" fill="#fff"/>
<rect x="651" y="268" width="1" height="27" fill="#000"/>
<rect x="650" y="286" width="3" height="8" fill="#000"/>
<rect x="655" y="275" width="1" height="21" fill="#000"/>
<rect x="654" y="282" width="3" height="12" fill="#000"/>
<rect x="655" y="283" width="1" height="10" fill="#fff"/>
<rect x="659" y="263" width="1" height="24" fill="#000"/>
<rect x="658" y="275" width="3" height="8" fill="#000"/>
<rect x="659" y="276" width="1" height="6" fill="#fff"/>
<rect x="663" y="248" width="1" height="36" fill="#000"/>
<rect x="662" y="256" width="3" height="20" fill="#000"/>
<rect x="663" y="257" width="1" height="18" fill="#fff"/>
<rect x="667" y="248" width="1" height="13" fill="#000"/>
<rect x="666" y="255" width="3" height="4" fill="#000"/>
<rect x="671" y="249" width="1" height="25" fill="#000"/>
<rect x="670" y="256" width="3" height="16" fill="#000"/>
<rect x="675" y="267" width="1" height="18" fill="#000"/>
<rect x="674" y="272" width="3" height="12" fill="#000"/>
<rect x="679" y="277" width="1" height="18" fill="#000"/>
<rect x="678" y="283" width="3" height="10" fill="#000"/>
<rect x="683" y="281" width="1" height="25" fill="#000"/>
<rect x="682" y="292" width="3" height="11" fill="#000"/>
<rect x="687" y="286" width="1" height="25" fill="#000"/>
<rect x="686" y="303" width="3" height="2" fill="#000"/>
<rect x="691" y="291" width="1" height="18" fill="#000"/>
<rect x="690" y="300" width="3" height="4" fill="#000"/>
<rect x="691" y="301" width="1" height="2" fill="#fff"/>
<rect x="695" y="292" width="1" height="37" fill="#000"/>
<rect x="694" y="293" width="3" height="36" fill="#000"/>
<rect x="695" y="294" width="1" height="34" fill="#fff"/>
<rect x="699" y="280" width="1" height="20" fill="#000"/>
<rect x="698" y="289" width="3" height="5" fill="#000"/>
<rect x="699" y="290" width="1" height="3" fill="#fff"/>
<rect x="703" y="281" width="1" height="18" fill="#000"/>
<rect x="702" y="289" width="3" height="2" fill="#000"/>
<rect x="707" y="289" width="1" height="10" fill="#000"/>
<rect x="706" y="291" width="3" height="2" fill="#000"/>
<rect x="711" y="291" width="1" height="28" fill="#000"/>
<rect x="710" y="292" width="3" height="19" fill="#000"/>
<rect x="715" y="290" width="1" height="31" fill="#000"/>
<rect x="714" y="299" width="3" height="12" fill="#000"/>
<rect x="715" y="300" width="1" height="10" fill="#fff"/>
<rect x="719" y="289" width="1" height="29" fill="#000"/>
<rect x="718" y="291" width="3" height="24" fill="#000"/>
<rect x="723" y="303" width="1" height="30" fill="#000"/>
<rect x="722" y="315" width="3" height="12" fill="#000"/>
<rect x="727" y="301" width="1" height="29" fill="#000"/>
<rect x="726" y="305" width="3" height="22" fill="#000"/>
<rect x="727" y="306" width="1" height="20" fill="#fff"/>
<rect x="731" y="286" width="1" height="27" fill="#000"/>
<rect x="730" y="289" width="3" height="15" fill="#000"/>
<rect x="731" y="290" width="1" height="13" fill="#fff"/>
<rect x="735" y="288" width="1" height="26" fill="#000"/>
<rect x="734" y="288" width="3" height="20" fill="#000"/>
<rect x="739" y="292" width="1" height="24" fill="#000"/>
<rect x="738" y="296" width="3" height="12" fill="#000"/>
<rect x="739" y="297" width="1" height="10" fill="#fff"/>
<rect x="743" y="273" width="1" height="30" fill="#000"/>
<rect x="742" y="276" width="3" height="19" fill="#000"/>
<rect x="743" y="277" width="1" height="17" fill="#fff"/>
<rect x="747" y="273" width="1" height="20" fill="#000"/>
<rect x="746" y="277" width="3" height="12" fill="#000"/>
<rect x="751" y="287" width="1" height="27" fill="#000"/>
<rect x="750" y="288" width="3" height="24" fill="#000"/>
<rect x="755" y="292" width="1" height="20" fill="#000"/>
<rect x="754" y="295" width="3" height="17" fill="#000"/>
<rect x="755" y="296" width="1" height="15" fill="#fff"/>
<rect x="759" y="291" width="1" height="16" fill="#000"/>
<rect x="758" y="295" width="3" height="5" fill="#000"/>
<rect x="763" y="298" width="1" height="25" fill="#000"/>
<rect x="762" y="298" width="3" height="14" fill="#000"/>
<rect x="767" y="307" width="1" height="14" fill="#000"/>
<rect x="766" y="317" width="3" height="1" fill="#000"/>
<rect x="771" y="303" width="1" height="23" fill="#000"/>
<rect x="770" y="316" width="3" height="2" fill="#000"/>
<rect x="775" y="306" width="1" height="17" fill="#000"/>
<rect x="774" y="308" width="3" height="7" fill="#000"/>
<rect x="775" y="309" width="1" height="5" fill="#fff"/>
<rect x="779" y="296" width="1" height="16" fill="#000"/>
<rect x="778" y="303" width="3" height="4" fill="#000"/>
<rect x="779" y="304" width="1" height="2" fill="#fff"/>
<rect x="783" y="299" width="1" height="15" fill="#000"/>
<rect x="782" y="302" width="3" height="9" fill="#000"/>
<rect x="787" y="294" width="1" height="17" fill="#000"/>
<rect x="786" y="298" width="3" height="12" fill="#000"/>
<rect x="787" y="299" width="1" height="10" fill="#fff"/>
<rect x="791" y="296" width="1" height="11" fill="#000"/>
<rect x="790" y="297" width="3" height="9" fill="#000"/>
<rect x="795" y="304" width="1" height="9" fill="#000"/>
<rect x="794" y="306" width="3" height="5" fill="#000"/>
<rect x="799" y="305" width="1" height="10" fill="#000"/>
<rect x="798" y="310" width="3" height="2" fill="#000"/>
<rect x="803" y="238" width="1" height="78" fill="#000"/>
<rect x="802" y="242" width="3" height="71" fill="#000"/>
<rect x="803" y="243" width="1" height="69" fill="#fff"/>
<rect x="807" y="210" width="1" height="34" fill="#000"/>
<rect x="806" y="212" width="3" height="30" fill="#000"/>
<rect x="807" y="213" width="1" height="28" fill="#fff"/>
<rect x="811" y="209" width="1" height="23" fill="#000"/>
<rect x="810" y="212" width="3" height="4" fill="#000"/>
<rect x="815" y="216" width="1" height="18" fill="#000"/>
<rect x="814" y="220" width="3" height="12" fill="#000"/>
<rect x="819" y="227" width="1" height="9" fill="#000"/>
<rect x="818" y="231" width="3" height="1" fill="#000"/>
<rect x="823" y="220" width="1" height="29" fill="#000"/>
<rect x="822" y="232" width="3" height="16" fill="#000"/>
<rect x="827" y="239" width="1" height="12" fill="#000"/>
<rect x="826" y="241" width="3" height="7" fill="#000"/>
<rect x="827" y="242" width="1" height="5" fill="#fff"/>
<rect x="831" y="232" width="1" height="14" fill="#000"/>
<rect x="830" y="237" width="3" height="4" fill="#000"/>
<rect x="831" y="238" width="1" height="2" fill="#fff"/>
<rect x="835" y="235" width="1" height="22" fill="#000"/>
<rect x="834" y="238" width="3" height="2" fill="#000"/>
<rect x="839" y="239" width="1" height="14" fill="#000"/>
<rect x="838" y="241" width="3" height="11" fill="#000"/>
<rect x="843" y="244" width="1" height="8" fill="#000"/>
<rect x="842" y="245" width="3" height="7" fill="#000"/>
<rect x="843" y="246" width="1" height="5" fill="#fff"/>
<rect x="847" y="229" width="1" height="19" fill="#000"/>
<rect x="846" y="230" width="3" height="15" fill="#000"/>
<rect x="847" y="231" width="1" height="13" fill="#fff"/>
<rect x="851" y="190" width="1" height="41" fill="#000"/>
<rect x="850" y="196" width="3" height="35" fill="#000"/>
<rect x="851" y="197" width="1" height="33" fill="#fff"/>
<rect x="855" y="188" width="1" height="22" fill="#000"/>
<rect x="854" y="196" width="3" height="7" fill="#000"/>
<rect x="859" y="197" width="1" height="13" fill="#000"/>
<rect x="858" y="198" width="3" height="4" fill="#000"/>
<rect x="859" y="199" width="1" height="2" fill="#fff"/>
<rect x="863" y="191" width="1" height="16" fill="#000"/>
<rect x="862" y="198" width="3" height="1" fill="#000"/>
<rect x="867" y="186" width="1" height="14" fill="#000"/>
<rect x="866" y="192" width="3" height="7" fill="#000"/>
<rect x="867" y="193" width="1" height="5" fill="#fff"/>
<rect x="871" y="179" width="1" height="19" fill="#000"/>
<rect x="870" y="180" width="3" height="12" fill="#000"/>
<rect x="871" y="181" width="1" height="10" fill="#fff"/>
<rect x="875" y="171" width="1" height="17" fill="#000"/>
<rect x="874" y="180" width="3" height="2" fill="#000"/>
<rect x="879" y="145" width="1" height="38" fill="#000"/>
<rect x="878" y="152" width="3" height="30" fill="#000"/>
<rect x="879" y="153" width="1" height="28" fill="#fff"/>
<rect x="883" y="143" width="1" height="19" fill="#000"/>
<rect x="882" y="145" width="3" height="7" fill="#000"/>
<rect x="883" y="146" width="1" height="5" fill="#fff"/>
<rect x="887" y="144" width="1" height="10" fill="#000"/>
<rect x="886" y="144" width="3" height="2" fill="#000"/>
<rect x="109" y="519" width="3" height="1" fill="#ff0000"/>
<rect x="115" y="519" width="3" height="1" fill="#ff0000"/>
<rect x="121" y="519" width="3" height="1" fill="#ff0000"/>
<rect x="127" y="519" width="1" height="1" fill="#ff0000"/>
<rect x="103" y="520" width="3" height="1" fill="#ff0000"/>
<rect x="128" y="520" width="2" height="1" fill="#ff0000"/>
<rect x="98" y="521" width="2" height="1" fill="#ff0000"/>
<rect x="133" y="521" width="1" height="1" fill="#ff0000"/>
<rect x="97" y="522" width="1" height="1" fill="#ff0000"/>
<rect x="134" y="522" width="2" height="1" fill="#ff0000"/>
<rect x="884" y="522" width="1" height="1" fill="#ff0000"/>
<rect x="91" y="523" width="3" height="1" fill="#ff0000"/>
<rect x="882" y="523" width="2" height="1" fill="#ff0000"/>
<rect x="86" y="524" width="2" height="1" fill="#ff0000"/>
<rect x="139" y="524" width="2" height="1" fill="#ff0000"/>
<rect x="85" y="525" width="1" height="1" fill="#ff0000"/>
<rect x="141" y="525" width="1" height="1" fill="#ff0000"/>
<rect x="79" y="526" width="3" height="1" fill="#ff0000"/>
<rect x="145" y="526" width="1" height="1" fill="#ff0000"/>
<rect x="878" y="526" width="1" height="1" fill="#ff0000"/>
<rect x="146" y="527" width="2" height="1" fill="#ff0000"/>
<rect x="876" y="527" width="2" height="1" fill="#ff0000"/>
<rect x="74" y="528" width="2" height="1" fill="#ff0000"/>
<rect x="73" y="529" width="1" height="1" fill="#ff0000"/>
<rect x="151" y="529" width="3" height="1" fill="#ff0000"/>
<rect x="870" y="529" width="3" height="1" fill="#ff0000"/>
<rect x="864" y="530" width="3" height="1" fill="#ff0000"/>
<rect x="68" y="531" width="2" height="1" fill="#ff0000"/>
<rect x="157" y="531" width="3" height="1" fill="#ff0000"/>
<rect x="67" y="532" width="1" height="1" fill="#ff0000"/>
<rect x="858" y="532" width="3" height="1" fill="#ff0000"/>
<rect x="163" y="533" width="2" height="1" fill="#ff0000"/>
<rect x="852" y="533" width="3" height="1" fill="#ff0000"/>
<rect x="62" y="534" width="2" height="1" fill="#ff0000"/>
<rect x="165" y="534" width="1" height="1" fill="#ff0000"/>
<rect x="846" y="534" width="3" height="1" fill="#ff0000"/>
<rect x="61" y="535" width="1" height="1" fill="#ff0000"/>
<rect x="841" y="535" width="2" height="1" fill="#ff0000"/>
<rect x="169" y="536" width="1" height="1" fill="#ff0000"/>
<rect x="840" y="536" width="1" height="1" fill="#ff0000"/>
<rect x="57" y="537" width="1" height="1" fill="#ff0000"/>
<rect x="170" y="537" width="1" height="1" fill="#ff0000"/>
<rect x="55" y="538" width="2" height="1" fill="#ff0000"/>
<rect x="171" y="538" width="1" height="1" fill="#ff0000"/>
<rect x="835" y="538" width="2" height="1" fill="#ff0000"/>
<rect x="834" y="539" width="1" height="1" fill="#ff0000"/>
<rect x="175" y="540" width="1" height="1" fill="#ff0000"/>
<rect x="50" y="541" width="2" height="1" fill="#ff0000"/>
<rect x="176" y="541" width="1" height="1" fill="#ff0000"/>
<rect x="49" y="542" width="1" height="1" fill="#ff0000"/>
<rect x="177" y="542" width="1" height="1" fill="#ff0000"/>
<rect x="522" y="542" width="3" height="1" fill="#ff0000"/>
<rect x="830" y="542" width="1" height="1" fill="#ff0000"/>
<rect x="516" y="543" width="3" height="1" fill="#ff0000"/>
<rect x="528" y="543" width="3" height="1" fill="#ff0000"/>
<rect x="829" y="543" width="1" height="1" fill="#ff0000"/>
<rect x="534" y="544" width="1" height="1" fill="#ff0000"/>
<rect x="828" y="544" width="1" height="1" fill="#ff0000"/>
<rect x="181" y="545" width="2" height="1" fill="#ff0000"/>
<rect x="511" y="545" width="2" height="1" fill="#ff0000"/>
<rect x="535" y="545" width="2" height="1" fill="#ff0000"/>
<rect x="45" y="546" width="1" height="1" fill="#ff0000"/>
<rect x="183" y="546" width="1" height="1" fill="#ff0000"/>
<rect x="510" y="546" width="1" height="1" fill="#ff0000"/>
<rect x="45" y="547" width="1" height="1" fill="#ff0000"/>
<rect x="540" y="547" width="1" height="1" fill="#ff0000"/>
<rect x="824" y="547" width="1" height="1" fill="#ff0000"/>
<rect x="44" y="548" width="1" height="1" fill="#ff0000"/>
<rect x="541" y="548" width="2" height="1" fill="#ff0000"/>
<rect x="552" y="548" width="3" height="1" fill="#ff0000"/>
<rect x="558" y="548" width="3" height="1" fill="#ff0000"/>
<rect x="564" y="548" width="3" height="1" fill="#ff0000"/>
<rect x="570" y="548" width="3" height="1" fill="#ff0000"/>
<rect x="576" y="548" width="3" height="1" fill="#ff0000"/>
<rect x="823" y="548" width="1" height="1" fill="#ff0000"/>
<rect x="187" y="549" width="1" height="1" fill="#ff0000"/>
<rect x="506" y="549" width="1" height="1" fill="#ff0000"/>
<rect x="546" y="549" width="3" height="1" fill="#ff0000"/>
<rect x="582" y="549" width="3" height="1" fill="#ff0000"/>
<rect x="822" y="549" width="1" height="1" fill="#ff0000"/>
<rect x="188" y="550" width="1" height="1" fill="#ff0000"/>
<rect x="505" y="550" width="1" height="1" fill="#ff0000"/>
<rect x="189" y="551" width="1" height="1" fill="#ff0000"/>
<rect x="504" y="551" width="1" height="1" fill="#ff0000"/>
<rect x="588" y="551" width="3" height="1" fill="#ff0000"/>
<rect x="40" y="552" width="1" height="1" fill="#ff0000"/>
<rect x="594" y="552" width="3" height="1" fill="#ff0000"/>
<rect x="600" y="552" width="3" height="1" fill="#ff0000"/>
<rect x="606" y="552" width="3" height="1" fill="#ff0000"/>
<rect x="612" y="552" width="3" height="1" fill="#ff0000"/>
<rect x="618" y="552" width="3" height="1" fill="#ff0000"/>
<rect x="624" y="552" width="3" height="1" fill="#ff0000"/>
<rect x="818" y="552" width="1" height="1" fill="#ff0000"/>
<rect x="39" y="553" width="1" height="1" fill="#ff0000"/>
<rect x="817" y="553" width="1" height="1" fill="#ff0000"/>
<rect x="38" y="554" width="1" height="1" fill="#ff0000"/>
<rect x="193" y="554" width="1" height="1" fill="#ff0000"/>
<rect x="630" y="554" width="3" height="1" fill="#ff0000"/>
<rect x="816" y="554" width="1" height="1" fill="#ff0000"/>
<rect x="194" y="555" width="1" height="1" fill="#ff0000"/>
<rect x="500" y="555" width="1" height="1" fill="#ff0000"/>
<rect x="636" y="555" width="3" height="1" fill="#ff0000"/>
<rect x="195" y="556" width="1" height="1" fill="#ff0000"/>
<rect x="499" y="556" width="1" height="1" fill="#ff0000"/>
<rect x="235" y="557" width="3" height="1" fill="#ff0000"/>
<rect x="241" y="557" width="3" height="1" fill="#ff0000"/>
<rect x="498" y="557" width="1" height="1" fill="#ff0000"/>
<rect x="642" y="557" width="2" height="1" fill="#ff0000"/>
<rect x="812" y="557" width="1" height="1" fill="#ff0000"/>
<rect x="35" y="558" width="1" height="1" fill="#ff0000"/>
<rect x="229" y="558" width="3" height="1" fill="#ff0000"/>
<rect x="644" y="558" width="1" height="1" fill="#ff0000"/>
<rect x="811" y="558" width="1" height="1" fill="#ff0000"/>
<rect x="34" y="559" width="1" height="1" fill="#ff0000"/>
<rect x="199" y="559" width="1" height="1" fill="#ff0000"/>
<rect x="247" y="559" width="2" height="1" fill="#ff0000"/>
<rect x="648" y="559" width="3" height="1" fill="#ff0000"/>
<rect x="672" y="559" width="3" height="1" fill="#ff0000"/>
<rect x="678" y="559" width="3" height="1" fill="#ff0000"/>
<rect x="684" y="559" width="3" height="1" fill="#ff0000"/>
<rect x="690" y="559" width="3" height="1" fill="#ff0000"/>
<rect x="810" y="559" width="1" height="1" fill="#ff0000"/>
<rect x="34" y="560" width="1" height="1" fill="#ff0000"/>
<rect x="200" y="560" width="2" height="1" fill="#ff0000"/>
<rect x="223" y="560" width="3" height="1" fill="#ff0000"/>
<rect x="249" y="560" width="1" height="1" fill="#ff0000"/>
<rect x="325" y="560" width="3" height="1" fill="#ff0000"/>
<rect x="654" y="560" width="3" height="1" fill="#ff0000"/>
<rect x="660" y="560" width="3" height="1" fill="#ff0000"/>
<rect x="666" y="560" width="3" height="1" fill="#ff0000"/>
<rect x="696" y="560" width="3" height="1" fill="#ff0000"/>
<rect x="217" y="561" width="3" height="1" fill="#ff0000"/>
<rect x="319" y="561" width="3" height="1" fill="#ff0000"/>
<rect x="331" y="561" width="3" height="1" fill="#ff0000"/>
<rect x="494" y="561" width="1" height="1" fill="#ff0000"/>
<rect x="806" y="561" width="1" height="1" fill="#ff0000"/>
<rect x="205" y="562" width="1" height="1" fill="#ff0000"/>
<rect x="253" y="562" width="1" height="1" fill="#ff0000"/>
<rect x="493" y="562" width="1" height="1" fill="#ff0000"/>
<rect x="702" y="562" width="3" height="1" fill="#ff0000"/>
<rect x="804" y="562" width="2" height="1" fill="#ff0000"/>
<rect x="206" y="563" width="2" height="1" fill="#ff0000"/>
<rect x="211" y="563" width="3" height="1" fill="#ff0000"/>
<rect x="254" y="563" width="1" height="1" fill="#ff0000"/>
<rect x="314" y="563" width="2" height="1" fill="#ff0000"/>
<rect x="337" y="563" width="3" height="1" fill="#ff0000"/>
<rect x="492" y="563" width="1" height="1" fill="#ff0000"/>
<rect x="708" y="563" width="3" height="1" fill="#ff0000"/>
<rect x="31" y="564" width="1" height="1" fill="#ff0000"/>
<rect x="255" y="564" width="1" height="1" fill="#ff0000"/>
<rect x="313" y="564" width="1" height="1" fill="#ff0000"/>
<rect x="762" y="564" width="3" height="1" fill="#ff0000"/>
<rect x="768" y="564" width="3" height="1" fill="#ff0000"/>
<rect x="774" y="564" width="3" height="1" fill="#ff0000"/>
<rect x="780" y="564" width="3" height="1" fill="#ff0000"/>
<rect x="786" y="564" width="3" height="1" fill="#ff0000"/>
<rect x="792" y="564" width="3" height="1" fill="#ff0000"/>
<rect x="798" y="564" width="3" height="1" fill="#ff0000"/>
<rect x="30" y="565" width="1" height="1" fill="#ff0000"/>
<rect x="343" y="565" width="1" height="1" fill="#ff0000"/>
<rect x="714" y="565" width="3" height="1" fill="#ff0000"/>
<rect x="720" y="565" width="3" height="1" fill="#ff0000"/>
<rect x="756" y="565" width="3" height="1" fill="#ff0000"/>
<rect x="30" y="566" width="1" height="1" fill="#ff0000"/>
<rect x="308" y="566" width="2" height="1" fill="#ff0000"/>
<rect x="344" y="566" width="2" height="1" fill="#ff0000"/>
<rect x="744" y="566" width="3" height="1" fill="#ff0000"/>
<rect x="750" y="566" width="3" height="1" fill="#ff0000"/>
<rect x="259" y="567" width="1" height="1" fill="#ff0000"/>
<rect x="307" y="567" width="1" height="1" fill="#ff0000"/>
<rect x="488" y="567" width="1" height="1" fill="#ff0000"/>
<rect x="726" y="567" width="3" height="1" fill="#ff0000"/>
<rect x="732" y="567" width="3" height="1" fill="#ff0000"/>
<rect x="738" y="567" width="3" height="1" fill="#ff0000"/>
<rect x="260" y="568" width="1" height="1" fill="#ff0000"/>
<rect x="349" y="568" width="2" height="1" fill="#ff0000"/>
<rect x="487" y="568" width="1" height="1" fill="#ff0000"/>
<rect x="261" y="569" width="1" height="1" fill="#ff0000"/>
<rect x="302" y="569" width="2" height="1" fill="#ff0000"/>
<rect x="351" y="569" width="1" height="1" fill="#ff0000"/>
<rect x="486" y="569" width="1" height="1" fill="#ff0000"/>
<rect x="27" y="570" width="1" height="1" fill="#ff0000"/>
<rect x="301" y="570" width="1" height="1" fill="#ff0000"/>
<rect x="26" y="571" width="1" height="1" fill="#ff0000"/>
<rect x="265" y="571" width="1" height="1" fill="#ff0000"/>
<rect x="355" y="571" width="1" height="1" fill="#ff0000"/>
<rect x="26" y="572" width="1" height="1" fill="#ff0000"/>
<rect x="266" y="572" width="1" height="1" fill="#ff0000"/>
<rect x="297" y="572" width="1" height="1" fill="#ff0000"/>
<rect x="356" y="572" width="2" height="1" fill="#ff0000"/>
<rect x="267" y="573" width="1" height="1" fill="#ff0000"/>
<rect x="296" y="573" width="1" height="1" fill="#ff0000"/>
<rect x="482" y="573" width="1" height="1" fill="#ff0000"/>
<rect x="295" y="574" width="1" height="1" fill="#ff0000"/>
<rect x="361" y="574" width="1" height="1" fill="#ff0000"/>
<rect x="481" y="574" width="1" height="1" fill="#ff0000"/>
<rect x="271" y="575" width="1" height="1" fill="#ff0000"/>
<rect x="362" y="575" width="2" height="1" fill="#ff0000"/>
<rect x="480" y="575" width="1" height="1" fill="#ff0000"/>
<rect x="23" y="576" width="1" height="1" fill="#ff0000"/>
<rect x="272" y="576" width="2" height="1" fill="#ff0000"/>
<rect x="289" y="576" width="3" height="1" fill="#ff0000"/>
<rect x="23" y="577" width="1" height="1" fill="#ff0000"/>
<rect x="367" y="577" width="3" height="1" fill="#ff0000"/>
<rect x="22" y="578" width="1" height="1" fill="#ff0000"/>
<rect x="277" y="578" width="3" height="1" fill="#ff0000"/>
<rect x="285" y="578" width="1" height="1" fill="#ff0000"/>
<rect x="373" y="578" width="3" height="1" fill="#ff0000"/>
<rect x="283" y="579" width="2" height="1" fill="#ff0000"/>
<rect x="379" y="579" width="3" height="1" fill="#ff0000"/>
<rect x="477" y="579" width="1" height="1" fill="#ff0000"/>
<rect x="475" y="580" width="2" height="1" fill="#ff0000"/>
<rect x="385" y="581" width="3" height="1" fill="#ff0000"/>
<rect x="19" y="582" width="1" height="1" fill="#ff0000"/>
<rect x="19" y="583" width="1" height="1" fill="#ff0000"/>
<rect x="391" y="583" width="2" height="1" fill="#ff0000"/>
<rect x="471" y="583" width="1" height="1" fill="#ff0000"/>
<rect x="18" y="584" width="1" height="1" fill="#ff0000"/>
<rect x="393" y="584" width="1" height="1" fill="#ff0000"/>
<rect x="470" y="584" width="1" height="1" fill="#ff0000"/>
<rect x="469" y="585" width="1" height="1" fill="#ff0000"/>
<rect x="397" y="586" width="1" height="1" fill="#ff0000"/>
<rect x="398" y="587" width="2" height="1" fill="#ff0000"/>
<rect x="15" y="588" width="1" height="1" fill="#ff0000"/>
<rect x="14" y="589" width="1" height="1" fill="#ff0000"/>
<rect x="403" y="589" width="1" height="1" fill="#ff0000"/>
<rect x="465" y="589" width="1" height="1" fill="#ff0000"/>
<rect x="13" y="590" width="1" height="1" fill="#ff0000"/>
<rect x="404" y="590" width="2" height="1" fill="#ff0000"/>
<rect x="464" y="590" width="1" height="1" fill="#ff0000"/>
<rect x="463" y="591" width="1" height="1" fill="#ff0000"/>
<rect x="409" y="592" width="1" height="1" fill="#ff0000"/>
<rect x="410" y="593" width="2" height="1" fill="#ff0000"/>
<rect x="10" y="594" width="1" height="1" fill="#ff0000"/>
<rect x="458" y="594" width="2" height="1" fill="#ff0000"/>
<rect x="9" y="595" width="1" height="1" fill="#ff0000"/>
<rect x="415" y="595" width="3" height="1" fill="#ff0000"/>
<rect x="457" y="595" width="1" height="1" fill="#ff0000"/>
<rect x="8" y="596" width="1" height="1" fill="#ff0000"/>
<rect x="421" y="596" width="3" height="1" fill="#ff0000"/>
<rect x="451" y="596" width="3" height="1" fill="#ff0000"/>
<rect x="427" y="597" width="3" height="1" fill="#ff0000"/>
<rect x="433" y="597" width="3" height="1" fill="#ff0000"/>
<rect x="439" y="597" width="3" height="1" fill="#ff0000"/>
<rect x="445" y="598" width="3" height="1" fill="#ff0000"/>
<rect x="5" y="600" width="1" height="1" fill="#ff0000"/>
<rect x="4" y="601" width="1" height="1" fill="#ff0000"/>
<rect x="3" y="602" width="1" height="1" fill="#ff0000"/>
<line x1="755.5" y1="292" x2="911" y2="50.5" stroke="#0000ff" stroke-width="2" shape-rendering="crispEdges"/>
<line x1="788" y1="341" x2="943.3" y2="99.8" stroke="#0000ff" stroke-width="2" shape-rendering="crispEdges"/>
<path d="M763 0L583 0L583 1147Q518 1085 412.5 1023Q307 961 223 930L223 1104Q374 1175 487 1276Q600 1377 647 1472L763 1472Z" transform="translate(1052.75,57) scale(0.009595,-0.009595)" fill="#ff4500" stroke="#ff4500" stroke-width="36" shape-rendering="auto"/>
<text x="1063.68" y="57" font-family="Liberation Sans, sans-serif" font-size="19.65" fill="#ff4500" stroke="#ff4500" stroke-width="0.35">2</text>
<text x="1074.61" y="57" font-family="Liberation Sans, sans-serif" font-size="19.65" fill="#ff4500" stroke="#ff4500" stroke-width="0.35">2</text>
<text x="1085.54" y="57" font-family="Liberation Sans, sans-serif" font-size="19.65" fill="#ff4500" stroke="#ff4500" stroke-width="0.35">.</text>
<text x="1090.99" y="57" font-family="Liberation Sans, sans-serif" font-size="19.65" fill="#ff4500" stroke="#ff4500" stroke-width="0.35">0</text>
<text x="1101.92" y="57" font-family="Liberation Sans, sans-serif" font-size="19.65" fill="#ff4500" stroke="#ff4500" stroke-width="0.35">0</text>
<path d="M763 0L583 0L583 1147Q518 1085 412.5 1023Q307 961 223 930L223 1104Q374 1175 487 1276Q600 1377 647 1472L763 1472Z" transform="translate(1052.75,120) scale(0.009595,-0.009595)" fill="#ff4500" stroke="#ff4500" stroke-width="36" shape-rendering="auto"/>
<text x="1063.68" y="120" font-family="Liberation Sans, sans-serif" font-size="19.65" fill="#ff4500" stroke="#ff4500" stroke-width="0.35">2</text>
<text x="1074.61" y="120" font-family="Liberation Sans, sans-serif" font-size="19.65" fill="#ff4500" stroke="#ff4500" stroke-width="0.35">0</text>
<text x="1085.54" y="120" font-family="Liberation Sans, sans-serif" font-size="19.65" fill="#ff4500" stroke="#ff4500" stroke-width="0.35">.</text>
<text x="1090.99" y="120" font-family="Liberation Sans, sans-serif" font-size="19.65" fill="#ff4500" stroke="#ff4500" stroke-width="0.35">8</text>
<text x="1101.92" y="120" font-family="Liberation Sans, sans-serif" font-size="19.65" fill="#ff4500" stroke="#ff4500" stroke-width="0.35">5</text>
<path d="M763 0L583 0L583 1147Q518 1085 412.5 1023Q307 961 223 930L223 1104Q374 1175 487 1276Q600 1377 647 1472L763 1472Z" transform="translate(1052.75,163) scale(0.009595,-0.009595)" fill="#ff4500" stroke="#ff4500" stroke-width="36" shape-rendering="auto"/>
<text x="1063.68" y="163" font-family="Liberation Sans, sans-serif" font-size="19.65" fill="#ff4500" stroke="#ff4500" stroke-width="0.35">2</text>
<text x="1074.61" y="163" font-family="Liberation Sans, sans-serif" font-size="19.65" fill="#ff4500" stroke="#ff4500" stroke-width="0.35">0</text>
<text x="1085.54" y="163" font-family="Liberation Sans, sans-serif" font-size="19.65" fill="#ff4500" stroke="#ff4500" stroke-width="0.35">.</text>
<text x="1090.99" y="163" font-family="Liberation Sans, sans-serif" font-size="19.65" fill="#ff4500" stroke="#ff4500" stroke-width="0.35">0</text>
<text x="1101.92" y="163" font-family="Liberation Sans, sans-serif" font-size="19.65" fill="#ff4500" stroke="#ff4500" stroke-width="0.35">0</text>
<path d="M763 0L583 0L583 1147Q518 1085 412.5 1023Q307 961 223 930L223 1104Q374 1175 487 1276Q600 1377 647 1472L763 1472Z" transform="translate(1052.75,215) scale(0.009595,-0.009595)" fill="#ff4500" stroke="#ff4500" stroke-width="36" shape-rendering="auto"/>
<path d="M763 0L583 0L583 1147Q518 1085 412.5 1023Q307 961 223 930L223 1104Q374 1175 487 1276Q600 1377 647 1472L763 1472Z" transform="translate(1063.68,215) scale(0.009595,-0.009595)" fill="#ff4500" stroke="#ff4500" stroke-width="36" shape-rendering="auto"/>
<text x="1074.61" y="215" font-family="Liberation Sans, sans-serif" font-size="19.65" fill="#ff4500" stroke="#ff4500" stroke-width="0.35">9</text>
<text x="1085.54" y="215" font-family="Liberation Sans, sans-serif" font-size="19.65" fill="#ff4500" stroke="#ff4500" stroke-width="0.35">.</text>
<text x="1090.99" y="215" font-family="Liberation Sans, sans-serif" font-size="19.65" fill="#ff4500" stroke="#ff4500" stroke-width="0.35">0</text>
<text x="1101.92" y="215" font-family="Liberation Sans, sans-serif" font-size="19.65" fill="#ff4500" stroke="#ff4500" stroke-width="0.35">0</text>
<path d="M763 0L583 0L583 1147Q518 1085 412.5 1023Q307 961 223 930L223 1104Q374 1175 487 1276Q600 1377 647 1472L763 1472Z" transform="translate(1052.75,268) scale(0.009595,-0.009595)" fill="#ff4500" stroke="#ff4500" stroke-width="36" shape-rendering="auto"/>
<path d="M763 0L583 0L583 1147Q518 1085 412.5 1023Q307 961 223 930L223 1104Q374 1175 487 1276Q600 1377 647 1472L763 1472Z" transform="translate(1063.68,268) scale(0.009595,-0.009595)" fill="#ff4500" stroke="#ff4500" stroke-width="36" shape-rendering="auto"/>
<text x="1074.61" y="268" font-family="Liberation Sans, sans-serif" font-size="19.65" fill="#ff4500" stroke="#ff4500" stroke-width="0.35">8</text>
<text x="1085.54" y="268" font-family="Liberation Sans, sans-serif" font-size="19.65" fill="#ff4500" stroke="#ff4500" stroke-width="0.35">.</text>
<text x="1090.99" y="268" font-family="Liberation Sans, sans-serif" font-size="19.65" fill="#ff4500" stroke="#ff4500" stroke-width="0.35">0</text>
<text x="1101.92" y="268" font-family="Liberation Sans, sans-serif" font-size="19.65" fill="#ff4500" stroke="#ff4500" stroke-width="0.35">0</text>
<path d="M763 0L583 0L583 1147Q518 1085 412.5 1023Q307 961 223 930L223 1104Q374 1175 487 1276Q600 1377 647 1472L763 1472Z" transform="translate(1052.75,327) scale(0.009595,-0.009595)" fill="#ff4500" stroke="#ff4500" stroke-width="36" shape-rendering="auto"/>
<path d="M763 0L583 0L583 1147Q518 1085 412.5 1023Q307 961 223 930L223 1104Q374 1175 487 1276Q600 1377 647 1472L763 1472Z" transform="translate(1063.68,327) scale(0.009595,-0.009595)" fill="#ff4500" stroke="#ff4500" stroke-width="36" shape-rendering="auto"/>
<text x="1074.61" y="327" font-family="Liberation Sans, sans-serif" font-size="19.65" fill="#ff4500" stroke="#ff4500" stroke-width="0.35">6</text>
<text x="1085.54" y="327" font-family="Liberation Sans, sans-serif" font-size="19.65" fill="#ff4500" stroke="#ff4500" stroke-width="0.35">.</text>
<text x="1090.99" y="327" font-family="Liberation Sans, sans-serif" font-size="19.65" fill="#ff4500" stroke="#ff4500" stroke-width="0.35">8</text>
<text x="1101.92" y="327" font-family="Liberation Sans, sans-serif" font-size="19.65" fill="#ff4500" stroke="#ff4500" stroke-width="0.35">5</text>
<path d="M763 0L583 0L583 1147Q518 1085 412.5 1023Q307 961 223 930L223 1104Q374 1175 487 1276Q600 1377 647 1472L763 1472Z" transform="translate(1052.75,409) scale(0.009595,-0.009595)" fill="#ff4500" stroke="#ff4500" stroke-width="36" shape-rendering="auto"/>
<path d="M763 0L583 0L583 1147Q518 1085 412.5 1023Q307 961 223 930L223 1104Q374 1175 487 1276Q600 1377 647 1472L763 1472Z" transform="translate(1063.68,409) scale(0.009595,-0.009595)" fill="#ff4500" stroke="#ff4500" stroke-width="36" shape-rendering="auto"/>
<text x="1074.61" y="409" font-family="Liberation Sans, sans-serif" font-size="19.65" fill="#ff4500" stroke="#ff4500" stroke-width="0.35">5</text>
<text x="1085.54" y="409" font-family="Liberation Sans, sans-serif" font-size="19.65" fill="#ff4500" stroke="#ff4500" stroke-width="0.35">.</text>
<text x="1090.99" y="409" font-family="Liberation Sans, sans-serif" font-size="19.65" fill="#ff4500" stroke="#ff4500" stroke-width="0.35">3</text>
<text x="1101.92" y="409" font-family="Liberation Sans, sans-serif" font-size="19.65" fill="#ff4500" stroke="#ff4500" stroke-width="0.35">0</text>
<path d="M763 0L583 0L583 1147Q518 1085 412.5 1023Q307 961 223 930L223 1104Q374 1175 487 1276Q600 1377 647 1472L763 1472Z" transform="translate(1052.75,464) scale(0.009595,-0.009595)" fill="#ff4500" stroke="#ff4500" stroke-width="36" shape-rendering="auto"/>
<path d="M763 0L583 0L583 1147Q518 1085 412.5 1023Q307 961 223 930L223 1104Q374 1175 487 1276Q600 1377 647 1472L763 1472Z" transform="translate(1063.68,464) scale(0.009595,-0.009595)" fill="#ff4500" stroke="#ff4500" stroke-width="36" shape-rendering="auto"/>
<text x="1074.61" y="464" font-family="Liberation Sans, sans-serif" font-size="19.65" fill="#ff4500" stroke="#ff4500" stroke-width="0.35">4</text>
<text x="1085.54" y="464" font-family="Liberation Sans, sans-serif" font-size="19.65" fill="#ff4500" stroke="#ff4500" stroke-width="0.35">.</text>
<text x="1090.99" y="464" font-family="Liberation Sans, sans-serif" font-size="19.65" fill="#ff4500" stroke="#ff4500" stroke-width="0.35">2</text>
<text x="1101.92" y="464" font-family="Liberation Sans, sans-serif" font-size="19.65" fill="#ff4500" stroke="#ff4500" stroke-width="0.35">5</text>
<rect x="2" y="4" width="1116" height="1" fill="#000"/>
<rect x="2" y="504" width="1116" height="1" fill="#000"/>
<rect x="2" y="4" width="1" height="501" fill="#000"/>
<rect x="1117" y="4" width="1" height="501" fill="#000"/>
<rect x="2" y="506" width="1116" height="1" fill="#000"/>
<rect x="2" y="607" width="1116" height="1" fill="#000"/>
<rect x="2" y="506" width="1" height="102" fill="#000"/>
<rect x="1117" y="506" width="1" height="102" fill="#000"/>
<rect x="888" y="5" width="9" height="1" fill="#c0c0c0"/>
<rect x="889" y="6" width="7" height="1" fill="#c0c0c0"/>
<rect x="890" y="7" width="5" height="1" fill="#c0c0c0"/>
<rect x="891" y="8" width="3" height="1" fill="#c0c0c0"/>
<rect x="892" y="9" width="1" height="1" fill="#c0c0c0"/>
<rect x="1118" y="24" width="2" height="1" fill="#000"/>
<text transform="translate(1123.5,26.8) rotate(0.1)" x="0" y="0" font-family="Liberation Sans, sans-serif" font-size="9.9" stroke="#000" stroke-width="0.25" fill="#000" textLength="27" lengthAdjust="spacingAndGlyphs">122.75</text>
<rect x="1118" y="58" width="2" height="1" fill="#000"/>
<text transform="translate(1123.5,60.8) rotate(0.1)" x="0" y="0" font-family="Liberation Sans, sans-serif" font-size="9.9" stroke="#000" stroke-width="0.25" fill="#000" textLength="27" lengthAdjust="spacingAndGlyphs">122.10</text>
<rect x="1118" y="92" width="2" height="1" fill="#000"/>
<text transform="translate(1123.5,94.8) rotate(0.1)" x="0" y="0" font-family="Liberation Sans, sans-serif" font-size="9.9" stroke="#000" stroke-width="0.25" fill="#000" textLength="27" lengthAdjust="spacingAndGlyphs">121.45</text>
<rect x="1118" y="126" width="2" height="1" fill="#000"/>
<text transform="translate(1123.5,128.8) rotate(0.1)" x="0" y="0" font-family="Liberation Sans, sans-serif" font-size="9.9" stroke="#000" stroke-width="0.25" fill="#000" textLength="27" lengthAdjust="spacingAndGlyphs">120.80</text>
<rect x="1118" y="160" width="2" height="1" fill="#000"/>
<text transform="translate(1123.5,162.8) rotate(0.1)" x="0" y="0" font-family="Liberation Sans, sans-serif" font-size="9.9" stroke="#000" stroke-width="0.25" fill="#000" textLength="27" lengthAdjust="spacingAndGlyphs">120.15</text>
<rect x="1118" y="194" width="2" height="1" fill="#000"/>
<text transform="translate(1123.5,196.8) rotate(0.1)" x="0" y="0" font-family="Liberation Sans, sans-serif" font-size="9.9" stroke="#000" stroke-width="0.25" fill="#000" textLength="27" lengthAdjust="spacingAndGlyphs">119.50</text>
<rect x="1118" y="228" width="2" height="1" fill="#000"/>
<text transform="translate(1123.5,230.8) rotate(0.1)" x="0" y="0" font-family="Liberation Sans, sans-serif" font-size="9.9" stroke="#000" stroke-width="0.25" fill="#000" textLength="27" lengthAdjust="spacingAndGlyphs">118.85</text>
<rect x="1118" y="262" width="2" height="1" fill="#000"/>
<text transform="translate(1123.5,264.8) rotate(0.1)" x="0" y="0" font-family="Liberation Sans, sans-serif" font-size="9.9" stroke="#000" stroke-width="0.25" fill="#000" textLength="27" lengthAdjust="spacingAndGlyphs">118.20</text>
<rect x="1118" y="296" width="2" height="1" fill="#000"/>
<text transform="translate(1123.5,298.8) rotate(0.1)" x="0" y="0" font-family="Liberation Sans, sans-serif" font-size="9.9" stroke="#000" stroke-width="0.25" fill="#000" textLength="27" lengthAdjust="spacingAndGlyphs">117.55</text>
<rect x="1118" y="331" width="2" height="1" fill="#000"/>
<text transform="translate(1123.5,333.8) rotate(0.1)" x="0" y="0" font-family="Liberation Sans, sans-serif" font-size="9.9" stroke="#000" stroke-width="0.25" fill="#000" textLength="27" lengthAdjust="spacingAndGlyphs">116.90</text>
<rect x="1118" y="365" width="2" height="1" fill="#000"/>
<text transform="translate(1123.5,367.8) rotate(0.1)" x="0" y="0" font-family="Liberation Sans, sans-serif" font-size="9.9" stroke="#000" stroke-width="0.25" fill="#000" textLength="27" lengthAdjust="spacingAndGlyphs">116.25</text>
<rect x="1118" y="399" width="2" height="1" fill="#000"/>
<text transform="translate(1123.5,401.8) rotate(0.1)" x="0" y="0" font-family="Liberation Sans, sans-serif" font-size="9.9" stroke="#000" stroke-width="0.25" fill="#000" textLength="27" lengthAdjust="spacingAndGlyphs">115.60</text>
<rect x="1118" y="433" width="2" height="1" fill="#000"/>
<text transform="translate(1123.5,435.8) rotate(0.1)" x="0" y="0" font-family="Liberation Sans, sans-serif" font-size="9.9" stroke="#000" stroke-width="0.25" fill="#000" textLength="27" lengthAdjust="spacingAndGlyphs">114.95</text>
<rect x="1118" y="467" width="2" height="1" fill="#000"/>
<text transform="translate(1123.5,469.8) rotate(0.1)" x="0" y="0" font-family="Liberation Sans, sans-serif" font-size="9.9" stroke="#000" stroke-width="0.25" fill="#000" textLength="27" lengthAdjust="spacingAndGlyphs">114.30</text>
<rect x="1118" y="501" width="2" height="1" fill="#000"/>
<text transform="translate(1123.5,503.8) rotate(0.1)" x="0" y="0" font-family="Liberation Sans, sans-serif" font-size="9.9" stroke="#000" stroke-width="0.25" fill="#000" textLength="27" lengthAdjust="spacingAndGlyphs">113.65</text>
<rect x="1118" y="507" width="1" height="1" fill="#000"/>
<rect x="1118" y="557" width="2" height="1" fill="#000"/>
<rect x="1118" y="606" width="1" height="1" fill="#000"/>
<text transform="translate(1121,516.8) rotate(0.1)" x="0" y="0" font-family="Liberation Sans, sans-serif" font-size="9.9" stroke="#000" stroke-width="0.25" fill="#000" textLength="22.5" lengthAdjust="spacingAndGlyphs">0.658</text>
<text transform="translate(1121,559.8) rotate(0.1)" x="0" y="0" font-family="Liberation Sans, sans-serif" font-size="9.9" stroke="#000" stroke-width="0.25" fill="#000" textLength="17.5" lengthAdjust="spacingAndGlyphs">0.00</text>
<text transform="translate(1120.6,603.8) rotate(0.1)" x="0" y="0" font-family="Liberation Sans, sans-serif" font-size="9.9" stroke="#000" stroke-width="0.25" fill="#000" textLength="25.5" lengthAdjust="spacingAndGlyphs">-0.652</text>
<rect x="1120" y="57" width="34" height="11" fill="#ff0000"/>
<text transform="translate(1123.5,65.8) rotate(0.1)" x="0" y="0" font-family="Liberation Sans, sans-serif" font-size="9.9" stroke="#fff" stroke-width="0.25" fill="#fff" textLength="27" lengthAdjust="spacingAndGlyphs">122.00</text>
<rect x="1120" y="117" width="34" height="11" fill="#ff0000"/>
<text transform="translate(1123.5,125.8) rotate(0.1)" x="0" y="0" font-family="Liberation Sans, sans-serif" font-size="9.9" stroke="#fff" stroke-width="0.25" fill="#fff" textLength="27" lengthAdjust="spacingAndGlyphs">120.85</text>
<rect x="1120" y="162" width="34" height="11" fill="#ff0000"/>
<text transform="translate(1123.5,170.8) rotate(0.1)" x="0" y="0" font-family="Liberation Sans, sans-serif" font-size="9.9" stroke="#fff" stroke-width="0.25" fill="#fff" textLength="27" lengthAdjust="spacingAndGlyphs">120.00</text>
<rect x="1120" y="214" width="34" height="11" fill="#ff0000"/>
<text transform="translate(1123.5,222.8) rotate(0.1)" x="0" y="0" font-family="Liberation Sans, sans-serif" font-size="9.9" stroke="#fff" stroke-width="0.25" fill="#fff" textLength="27" lengthAdjust="spacingAndGlyphs">119.00</text>
<rect x="1120" y="267" width="34" height="11" fill="#ff0000"/>
<text transform="translate(1123.5,275.8) rotate(0.1)" x="0" y="0" font-family="Liberation Sans, sans-serif" font-size="9.9" stroke="#fff" stroke-width="0.25" fill="#fff" textLength="27" lengthAdjust="spacingAndGlyphs">118.00</text>
<rect x="1120" y="327" width="34" height="11" fill="#ff0000"/>
<text transform="translate(1123.5,335.8) rotate(0.1)" x="0" y="0" font-family="Liberation Sans, sans-serif" font-size="9.9" stroke="#fff" stroke-width="0.25" fill="#fff" textLength="27" lengthAdjust="spacingAndGlyphs">116.85</text>
<rect x="1120" y="408" width="34" height="11" fill="#ff0000"/>
<text transform="translate(1123.5,416.8) rotate(0.1)" x="0" y="0" font-family="Liberation Sans, sans-serif" font-size="9.9" stroke="#fff" stroke-width="0.25" fill="#fff" textLength="27" lengthAdjust="spacingAndGlyphs">115.30</text>
<rect x="1120" y="463" width="34" height="11" fill="#ff0000"/>
<text transform="translate(1123.5,471.8) rotate(0.1)" x="0" y="0" font-family="Liberation Sans, sans-serif" font-size="9.9" stroke="#fff" stroke-width="0.25" fill="#fff" textLength="27" lengthAdjust="spacingAndGlyphs">114.25</text>
<rect x="1120" y="139" width="34" height="11" fill="#000"/>
<text transform="translate(1123.5,147.8) rotate(0.1)" x="0" y="0" font-family="Liberation Sans, sans-serif" font-size="9.9" stroke="#fff" stroke-width="0.25" fill="#fff" textLength="27" lengthAdjust="spacingAndGlyphs">120.43</text>
<rect x="6" y="11" width="7" height="1" fill="#000"/>
<rect x="7" y="12" width="5" height="1" fill="#000"/>
<rect x="8" y="13" width="3" height="1" fill="#000"/>
<rect x="9" y="14" width="1" height="1" fill="#000"/>
<text transform="translate(17.4,15.8) rotate(0.1)" x="0" y="0" font-family="Liberation Sans, sans-serif" font-size="9.9" stroke="#000" stroke-width="0.25" fill="#000" textLength="51.6" lengthAdjust="spacingAndGlyphs">USDJPY,H4</text>
<text transform="translate(75.0,15.8) rotate(0.1)" x="0" y="0" font-family="Liberation Sans, sans-serif" font-size="9.9" stroke="#000" stroke-width="0.25" fill="#000" textLength="27" lengthAdjust="spacingAndGlyphs">120.46</text>
<text transform="translate(106.05,15.8) rotate(0.1)" x="0" y="0" font-family="Liberation Sans, sans-serif" font-size="9.9" stroke="#000" stroke-width="0.25" fill="#000" textLength="27" lengthAdjust="spacingAndGlyphs">120.46</text>
<text transform="translate(137.1,15.8) rotate(0.1)" x="0" y="0" font-family="Liberation Sans, sans-serif" font-size="9.9" stroke="#000" stroke-width="0.25" fill="#000" textLength="27" lengthAdjust="spacingAndGlyphs">120.29</text>
<text transform="translate(168.15,15.8) rotate(0.1)" x="0" y="0" font-family="Liberation Sans, sans-serif" font-size="9.9" stroke="#000" stroke-width="0.25" fill="#000" textLength="27" lengthAdjust="spacingAndGlyphs">120.43</text>
<text transform="translate(6.4,518.8) rotate(0.1)" x="0" y="0" font-family="Liberation Sans, sans-serif" font-size="9.9" stroke="#000" stroke-width="0.25" fill="#000" textLength="118.2" lengthAdjust="spacingAndGlyphs">MACD(12,26,9) 0.599 0.477</text>
<rect x="3" y="608" width="1" height="3" fill="#000"/>
<text transform="translate(2.4,619.8) rotate(0.1)" x="0" y="0" font-family="Liberation Sans, sans-serif" font-size="9.9" stroke="#000" stroke-width="0.25" fill="#000" textLength="51.7" lengthAdjust="spacingAndGlyphs">17 Dec 2014</text>
<rect x="67" y="608" width="1" height="3" fill="#000"/>
<text transform="translate(65.3,619.8) rotate(0.1)" x="0" y="0" font-family="Liberation Sans, sans-serif" font-size="9.9" stroke="#000" stroke-width="0.25" fill="#000" textLength="55.0" lengthAdjust="spacingAndGlyphs">22 Dec 12:00</text>
<rect x="131" y="608" width="1" height="3" fill="#000"/>
<text transform="translate(129.0,619.8) rotate(0.1)" x="0" y="0" font-family="Liberation Sans, sans-serif" font-size="9.9" stroke="#000" stroke-width="0.25" fill="#000" textLength="55.15" lengthAdjust="spacingAndGlyphs">26 Dec 20:00</text>
<rect x="195" y="608" width="1" height="3" fill="#000"/>
<text transform="translate(193.25,619.8) rotate(0.1)" x="0" y="0" font-family="Liberation Sans, sans-serif" font-size="9.9" stroke="#000" stroke-width="0.25" fill="#000" textLength="55.15" lengthAdjust="spacingAndGlyphs">31 Dec 12:00</text>
<rect x="259" y="608" width="1" height="3" fill="#000"/>
<text transform="translate(257.25,619.8) rotate(0.1)" x="0" y="0" font-family="Liberation Sans, sans-serif" font-size="9.9" stroke="#000" stroke-width="0.25" fill="#000" textLength="48.15" lengthAdjust="spacingAndGlyphs">6 Jan 20:00</text>
<rect x="323" y="608" width="1" height="3" fill="#000"/>
<text transform="translate(321.5,619.8) rotate(0.1)" x="0" y="0" font-family="Liberation Sans, sans-serif" font-size="9.9" stroke="#000" stroke-width="0.25" fill="#000" textLength="47.65" lengthAdjust="spacingAndGlyphs">9 Jan 12:00</text>
<rect x="387" y="608" width="1" height="3" fill="#000"/>
<text transform="translate(386.2,619.8) rotate(0.1)" x="0" y="0" font-family="Liberation Sans, sans-serif" font-size="9.9" stroke="#000" stroke-width="0.25" fill="#000" textLength="52.2" lengthAdjust="spacingAndGlyphs">14 Jan 04:00</text>
<rect x="451" y="608" width="1" height="3" fill="#000"/>
<text transform="translate(450.2,619.8) rotate(0.1)" x="0" y="0" font-family="Liberation Sans, sans-serif" font-size="9.9" stroke="#000" stroke-width="0.25" fill="#000" textLength="52.2" lengthAdjust="spacingAndGlyphs">16 Jan 20:00</text>
<rect x="515" y="608" width="1" height="3" fill="#000"/>
<text transform="translate(513.25,619.8) rotate(0.1)" x="0" y="0" font-family="Liberation Sans, sans-serif" font-size="9.9" stroke="#000" stroke-width="0.25" fill="#000" textLength="53.4" lengthAdjust="spacingAndGlyphs">21 Jan 12:00</text>
<rect x="579" y="608" width="1" height="3" fill="#000"/>
<text transform="translate(577.0,619.8) rotate(0.1)" x="0" y="0" font-family="Liberation Sans, sans-serif" font-size="9.9" stroke="#000" stroke-width="0.25" fill="#000" textLength="53.4" lengthAdjust="spacingAndGlyphs">26 Jan 04:00</text>
<rect x="643" y="608" width="1" height="3" fill="#000"/>
<text transform="translate(641.25,619.8) rotate(0.1)" x="0" y="0" font-family="Liberation Sans, sans-serif" font-size="9.9" stroke="#000" stroke-width="0.25" fill="#000" textLength="53.4" lengthAdjust="spacingAndGlyphs">28 Jan 20:00</text>
<rect x="707" y="608" width="1" height="3" fill="#000"/>
<text transform="translate(705.25,619.8) rotate(0.1)" x="0" y="0" font-family="Liberation Sans, sans-serif" font-size="9.9" stroke="#000" stroke-width="0.25" fill="#000" textLength="50.15" lengthAdjust="spacingAndGlyphs">2 Feb 12:00</text>
<rect x="771" y="608" width="1" height="3" fill="#000"/>
<text transform="translate(769.5,619.8) rotate(0.1)" x="0" y="0" font-family="Liberation Sans, sans-serif" font-size="9.9" stroke="#000" stroke-width="0.25" fill="#000" textLength="50.15" lengthAdjust="spacingAndGlyphs">5 Feb 04:00</text>
<rect x="835" y="608" width="1" height="3" fill="#000"/>
<text transform="translate(833.25,619.8) rotate(0.1)" x="0" y="0" font-family="Liberation Sans, sans-serif" font-size="9.9" stroke="#000" stroke-width="0.25" fill="#000" textLength="50.4" lengthAdjust="spacingAndGlyphs">9 Feb 20:00</text>
<g style="mix-blend-mode:multiply"><rect x="0" y="0" width="1" height="1" fill="#ffffff"/></g>
</svg></body></html>
